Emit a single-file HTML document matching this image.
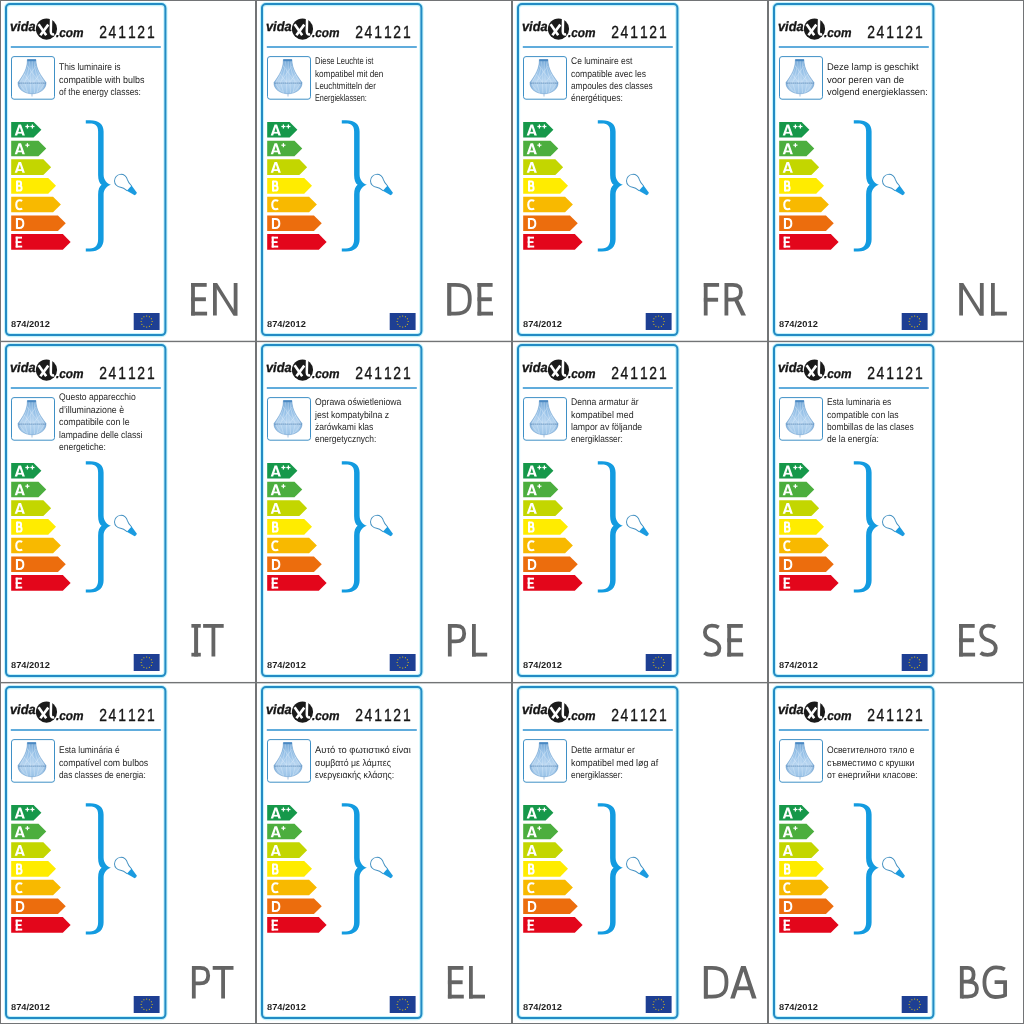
<!DOCTYPE html>
<html><head><meta charset="utf-8"><title>labels</title>
<style>
html,body{margin:0;padding:0;background:#fff;}
body{width:1024px;height:1024px;position:relative;overflow:hidden;font-family:"Liberation Sans",sans-serif;}
.cell{position:absolute;overflow:visible;will-change:transform;}
text{font-family:"Liberation Sans",sans-serif;text-rendering:geometricPrecision;}
.t{font-size:9.7px;fill:#262626;}
.num{font-size:17.4px;fill:#161616;stroke:#161616;stroke-width:0.35px;}
.logo{font-size:13.6px;font-weight:bold;font-style:italic;fill:#161616;stroke:#161616;stroke-width:0.35px;}
.logo2{font-size:12.8px;font-weight:bold;font-style:italic;fill:#161616;stroke:#161616;stroke-width:0.3px;}
.al{font-size:15.2px;font-weight:bold;fill:#fff;}
.reg{font-size:8.6px;font-weight:bold;fill:#1e1e1e;}
#grid{position:absolute;left:0;top:0;}
</style></head><body>
<svg width="0" height="0" style="position:absolute"><defs>
<linearGradient id="chv" x1="0" y1="0" x2="0" y2="1">
<stop offset="0" stop-color="#5a97cd"/><stop offset="0.3" stop-color="#92bee6"/><stop offset="0.65" stop-color="#b8d6f1"/><stop offset="1" stop-color="#98c2e7"/>
</linearGradient>
<linearGradient id="chh" x1="0" y1="0" x2="1" y2="0">
<stop offset="0" stop-color="#3f7fbf" stop-opacity="0.45"/><stop offset="0.25" stop-color="#ffffff" stop-opacity="0"/><stop offset="0.75" stop-color="#ffffff" stop-opacity="0"/><stop offset="1" stop-color="#3f7fbf" stop-opacity="0.45"/>
</linearGradient></defs></svg>
<svg class="cell" style="left:0px;top:0.000px" width="256" height="342" viewBox="0 0 256 342">
<rect x="6.0" y="4.1" width="159.4" height="331.0" rx="4" ry="4" fill="none" stroke="#c4f3fb" stroke-width="4.2"/>
<rect x="6.0" y="4.1" width="159.4" height="331.0" rx="4" ry="4" fill="none" stroke="#238bc4" stroke-width="2.0"/>
<text x="10.0" y="30.7" class="logo" textLength="25.6" lengthAdjust="spacingAndGlyphs">vida</text><circle cx="46.5" cy="29.05" r="10.6" fill="#1a1a1a"/><path d="M38.6,24.3 L46.2,35.2" stroke="#fff" stroke-width="2.6" fill="none"/><path d="M48.3,24.6 L40.4,35.2" stroke="#fff" stroke-width="2.6" fill="none"/><path d="M51.1,18.4 L50.8,31.6 C50.8,33.8 52,34.8 54.2,34.3" stroke="#fff" stroke-width="2.5" fill="none"/><text x="56.0" y="36.6" class="logo2" textLength="27.6" lengthAdjust="spacingAndGlyphs">.com</text>
<text transform="scale(0.8,1)" x="123.95 135.47 147.79 159.91 171.7 183.79" y="38.4" class="num">241121</text>
<line x1="10.8" y1="47.05" x2="160.8" y2="47.05" stroke="#2b90d0" stroke-width="1.4"/>
<rect x="11.5" y="56.6" width="43" height="42.6" rx="2.5" ry="2.5" fill="#fff" stroke="#3f90c6" stroke-width="1"/>
<path d="M27.4,59.5 L35.9,59.5 C35.9,69 40.5,75 46,82.5 C46.3,89 40,93.6 32,93.8 C24,93.6 17.6,89 18,82.5 C23.4,75 27.4,69 27.4,59.5 Z" fill="url(#chv)"/><path d="M27.4,59.5 L35.9,59.5 C35.9,69 40.5,75 46,82.5 C46.3,89 40,93.6 32,93.8 C24,93.6 17.6,89 18,82.5 C23.4,75 27.4,69 27.4,59.5 Z" fill="url(#chh)"/><path d="M28.2,61 C27.5,70 23,77 19.5,83 M29.6,61 C29.4,70 26.5,77 24.5,83 M31.1,61 L30.6,83 M32.6,61 L33.1,83 M34.1,61 C34.3,70 37.5,77 39.5,83 M35.4,61 C36,70 40.5,77 44.5,83 M20,84 C22,88 25,91.5 28,92.8 M25,84 L27.5,92.5 M30.5,84 L30.8,93.2 M34,84 L34.5,93 M39,84 L37,92.5 M44,84 C42,88 39,91.5 36,92.8" stroke="#d8eaf9" stroke-width="0.55" fill="none" opacity="0.85"/><path d="M27.5,66 L37.5,80 M36,66 L26,80 M24,74 L31,83 M40,74 L33,83" stroke="#e6f1fb" stroke-width="0.5" fill="none" opacity="0.7"/><path d="M27.4,59.5 L35.9,59.5 C35.9,69 40.5,75 46,82.5 C46.3,89 40,93.6 32,93.8 C24,93.6 17.6,89 18,82.5 C23.4,75 27.4,69 27.4,59.5 Z" fill="none" stroke="#5b94c9" stroke-width="0.6" opacity="0.8"/><rect x="27.4" y="59.4" width="8.5" height="1.8" fill="#4a88c2"/><line x1="18.6" y1="83.1" x2="45.6" y2="83.1" stroke="#4a78a8" stroke-width="0.9" stroke-dasharray="1.1,0.9"/><line x1="32" y1="93.5" x2="32" y2="96.5" stroke="#7fa9d4" stroke-width="0.7"/>
<text x="59.0" y="70.32" class="t" textLength="61.6" lengthAdjust="spacingAndGlyphs">This luminaire is</text><text x="59.0" y="82.70" class="t" textLength="85.4" lengthAdjust="spacingAndGlyphs">compatible with bulbs</text><text x="59.0" y="95.08" class="t" textLength="81.9" lengthAdjust="spacingAndGlyphs">of the energy classes:</text>
<polygon points="11.2,122.00 33.60,122.00 41.40,129.80 33.60,137.60 11.2,137.60" fill="#16984a"/>
<g fill="#fff"><polygon points="14.70,135.45 18.55,124.60 21.05,124.60 24.90,135.45 22.40,135.45 19.80,127.20 17.20,135.45"/><rect x="16.70" y="131.85" width="6.20" height="1.75"/></g>
<rect x="25.35" y="125.88" width="4.1" height="1.25" fill="#fff"/><rect x="26.77" y="124.45" width="1.25" height="4.1" fill="#fff"/>
<rect x="30.35" y="125.88" width="4.1" height="1.25" fill="#fff"/><rect x="31.77" y="124.45" width="1.25" height="4.1" fill="#fff"/>
<polygon points="11.2,140.68 38.47,140.68 46.27,148.48 38.47,156.28 11.2,156.28" fill="#4cae3e"/>
<g fill="#fff"><polygon points="14.70,154.13 18.55,143.28 21.05,143.28 24.90,154.13 22.40,154.13 19.80,145.88 17.20,154.13"/><rect x="16.70" y="150.53" width="6.20" height="1.75"/></g>
<rect x="25.35" y="144.56" width="4.1" height="1.25" fill="#fff"/><rect x="26.77" y="143.13" width="1.25" height="4.1" fill="#fff"/>
<polygon points="11.2,159.36 43.34,159.36 51.14,167.16 43.34,174.96 11.2,174.96" fill="#c3d600"/>
<g fill="#fff"><polygon points="14.70,172.81 18.55,161.96 21.05,161.96 24.90,172.81 22.40,172.81 19.80,164.56 17.20,172.81"/><rect x="16.70" y="169.21" width="6.20" height="1.75"/></g>
<polygon points="11.2,178.04 48.21,178.04 56.01,185.84 48.21,193.64 11.2,193.64" fill="#ffec00"/>
<g fill="#fff"><rect x="16.00" y="180.64" width="2.10" height="10.85"/><path d="M17.05,181.59 H19.65 C21.55,181.59 21.55,185.87 19.65,185.87 H17.05 M19.65,185.87 C22.25,185.87 22.25,190.54 19.65,190.54 H17.05" fill="none" stroke="#fff" stroke-width="2.0"/></g>
<polygon points="11.2,196.72 53.08,196.72 60.88,204.52 53.08,212.32 11.2,212.32" fill="#f8b900"/>
<g fill="#fff"><path d="M22.25,200.87 C21.25,200.37 20.25,200.27 19.85,200.27 C17.05,200.27 16.25,202.87 16.25,204.75 C16.25,206.62 17.05,209.22 19.85,209.22 C20.25,209.22 21.25,209.12 22.25,208.62" fill="none" stroke="#fff" stroke-width="2.1"/></g>
<polygon points="11.2,215.40 57.95,215.40 65.75,223.20 57.95,231.00 11.2,231.00" fill="#ec6d0d"/>
<g fill="#fff"><rect x="15.90" y="218.00" width="2.10" height="10.85"/><path d="M16.95,218.95 H19.35 C22.85,218.95 23.35,221.45 23.35,223.43 C23.35,225.40 22.85,227.90 19.35,227.90 H16.95" fill="none" stroke="#fff" stroke-width="2.0"/></g>
<polygon points="11.2,234.08 62.82,234.08 70.62,241.88 62.82,249.68 11.2,249.68" fill="#e3061b"/>
<g fill="#fff"><rect x="15.70" y="236.68" width="2.10" height="10.85"/><rect x="15.70" y="236.68" width="6.30" height="1.90"/><rect x="15.70" y="241.15" width="5.80" height="1.85"/><rect x="15.70" y="245.63" width="6.50" height="1.90"/></g>
<path d="M85.8,120.3 L90,120.3 C99,120.3 103.6,124.5 103.6,131.5 L103.6,174.5 C103.6,180 107,183.6 110.9,184.8 C107,186 103.6,189.5 103.6,194.5 L103.6,239.5 C103.6,246.5 99,251.6 90,251.6 L85.8,251.6 L85.8,248.4 L90,248.4 C95.5,248.4 98.1,245 98.1,239 L98.1,194.5 C98.1,189.5 99.5,186.2 101.6,184.8 C99.5,183.4 98.1,180 98.1,175 L98.1,131.5 C98.1,126 95.5,123.6 90,123.6 L85.8,123.6 Z" fill="#139be0"/>
<g transform="translate(121.0,180.8) rotate(41.7)"><path d="M11.4,-3.2 C8,-3.5 5.5,-4.1 4.0,-5.1 A6.48,6.48 0 1 0 4.0,5.1 C5.5,4.1 8,3.5 11.4,3.2" fill="none" stroke="#3f8ec0" stroke-width="0.95"/><path d="M11.0,-3.6 L19.8,-1.7 Q20.5,0 19.8,1.7 L11.0,3.6 Z" fill="#1b9be0"/></g>
<text x="11.0" y="326.8" class="reg" textLength="38.8" lengthAdjust="spacingAndGlyphs">874/2012</text>
<rect x="133.7" y="313" width="25.9" height="17" fill="#1e3f93"/><circle cx="152.15" cy="321.50" r="0.6" fill="#f5d000"/><circle cx="151.41" cy="324.25" r="0.6" fill="#f5d000"/><circle cx="149.40" cy="326.26" r="0.6" fill="#f5d000"/><circle cx="146.65" cy="327.00" r="0.6" fill="#f5d000"/><circle cx="143.90" cy="326.26" r="0.6" fill="#f5d000"/><circle cx="141.89" cy="324.25" r="0.6" fill="#f5d000"/><circle cx="141.15" cy="321.50" r="0.6" fill="#f5d000"/><circle cx="141.89" cy="318.75" r="0.6" fill="#f5d000"/><circle cx="143.90" cy="316.74" r="0.6" fill="#f5d000"/><circle cx="146.65" cy="316.00" r="0.6" fill="#f5d000"/><circle cx="149.40" cy="316.74" r="0.6" fill="#f5d000"/><circle cx="151.41" cy="318.75" r="0.6" fill="#f5d000"/>
<g fill="#646464" stroke="#646464" stroke-width="0"><rect x="191.10" y="283.00" width="3.80" height="32.50"/><rect x="191.10" y="283.00" width="15.60" height="3.80"/><rect x="191.10" y="297.30" width="14.80" height="3.90"/><rect x="191.10" y="311.70" width="16.00" height="3.80"/><rect x="213.00" y="283.00" width="3.80" height="32.50"/><rect x="233.70" y="283.00" width="3.80" height="32.50"/><polygon points="213.00,283.0 217.10,283.0 237.50,315.5 233.40,315.5"/></g>
</svg>
<svg class="cell" style="left:256px;top:0.000px" width="256" height="342" viewBox="0 0 256 342">
<rect x="6.0" y="4.1" width="159.4" height="331.0" rx="4" ry="4" fill="none" stroke="#c4f3fb" stroke-width="4.2"/>
<rect x="6.0" y="4.1" width="159.4" height="331.0" rx="4" ry="4" fill="none" stroke="#238bc4" stroke-width="2.0"/>
<text x="10.0" y="30.7" class="logo" textLength="25.6" lengthAdjust="spacingAndGlyphs">vida</text><circle cx="46.5" cy="29.05" r="10.6" fill="#1a1a1a"/><path d="M38.6,24.3 L46.2,35.2" stroke="#fff" stroke-width="2.6" fill="none"/><path d="M48.3,24.6 L40.4,35.2" stroke="#fff" stroke-width="2.6" fill="none"/><path d="M51.1,18.4 L50.8,31.6 C50.8,33.8 52,34.8 54.2,34.3" stroke="#fff" stroke-width="2.5" fill="none"/><text x="56.0" y="36.6" class="logo2" textLength="27.6" lengthAdjust="spacingAndGlyphs">.com</text>
<text transform="scale(0.8,1)" x="123.95 135.47 147.79 159.91 171.7 183.79" y="38.4" class="num">241121</text>
<line x1="10.8" y1="47.05" x2="160.8" y2="47.05" stroke="#2b90d0" stroke-width="1.4"/>
<rect x="11.5" y="56.6" width="43" height="42.6" rx="2.5" ry="2.5" fill="#fff" stroke="#3f90c6" stroke-width="1"/>
<path d="M27.4,59.5 L35.9,59.5 C35.9,69 40.5,75 46,82.5 C46.3,89 40,93.6 32,93.8 C24,93.6 17.6,89 18,82.5 C23.4,75 27.4,69 27.4,59.5 Z" fill="url(#chv)"/><path d="M27.4,59.5 L35.9,59.5 C35.9,69 40.5,75 46,82.5 C46.3,89 40,93.6 32,93.8 C24,93.6 17.6,89 18,82.5 C23.4,75 27.4,69 27.4,59.5 Z" fill="url(#chh)"/><path d="M28.2,61 C27.5,70 23,77 19.5,83 M29.6,61 C29.4,70 26.5,77 24.5,83 M31.1,61 L30.6,83 M32.6,61 L33.1,83 M34.1,61 C34.3,70 37.5,77 39.5,83 M35.4,61 C36,70 40.5,77 44.5,83 M20,84 C22,88 25,91.5 28,92.8 M25,84 L27.5,92.5 M30.5,84 L30.8,93.2 M34,84 L34.5,93 M39,84 L37,92.5 M44,84 C42,88 39,91.5 36,92.8" stroke="#d8eaf9" stroke-width="0.55" fill="none" opacity="0.85"/><path d="M27.5,66 L37.5,80 M36,66 L26,80 M24,74 L31,83 M40,74 L33,83" stroke="#e6f1fb" stroke-width="0.5" fill="none" opacity="0.7"/><path d="M27.4,59.5 L35.9,59.5 C35.9,69 40.5,75 46,82.5 C46.3,89 40,93.6 32,93.8 C24,93.6 17.6,89 18,82.5 C23.4,75 27.4,69 27.4,59.5 Z" fill="none" stroke="#5b94c9" stroke-width="0.6" opacity="0.8"/><rect x="27.4" y="59.4" width="8.5" height="1.8" fill="#4a88c2"/><line x1="18.6" y1="83.1" x2="45.6" y2="83.1" stroke="#4a78a8" stroke-width="0.9" stroke-dasharray="1.1,0.9"/><line x1="32" y1="93.5" x2="32" y2="96.5" stroke="#7fa9d4" stroke-width="0.7"/>
<text x="59.0" y="64.13" class="t" textLength="58.4" lengthAdjust="spacingAndGlyphs">Diese Leuchte ist</text><text x="59.0" y="76.51" class="t" textLength="68.4" lengthAdjust="spacingAndGlyphs">kompatibel mit den</text><text x="59.0" y="88.89" class="t" textLength="60.9" lengthAdjust="spacingAndGlyphs">Leuchtmitteln der</text><text x="59.0" y="101.27" class="t" textLength="51.8" lengthAdjust="spacingAndGlyphs">Energieklassen:</text>
<polygon points="11.2,122.00 33.60,122.00 41.40,129.80 33.60,137.60 11.2,137.60" fill="#16984a"/>
<g fill="#fff"><polygon points="14.70,135.45 18.55,124.60 21.05,124.60 24.90,135.45 22.40,135.45 19.80,127.20 17.20,135.45"/><rect x="16.70" y="131.85" width="6.20" height="1.75"/></g>
<rect x="25.35" y="125.88" width="4.1" height="1.25" fill="#fff"/><rect x="26.77" y="124.45" width="1.25" height="4.1" fill="#fff"/>
<rect x="30.35" y="125.88" width="4.1" height="1.25" fill="#fff"/><rect x="31.77" y="124.45" width="1.25" height="4.1" fill="#fff"/>
<polygon points="11.2,140.68 38.47,140.68 46.27,148.48 38.47,156.28 11.2,156.28" fill="#4cae3e"/>
<g fill="#fff"><polygon points="14.70,154.13 18.55,143.28 21.05,143.28 24.90,154.13 22.40,154.13 19.80,145.88 17.20,154.13"/><rect x="16.70" y="150.53" width="6.20" height="1.75"/></g>
<rect x="25.35" y="144.56" width="4.1" height="1.25" fill="#fff"/><rect x="26.77" y="143.13" width="1.25" height="4.1" fill="#fff"/>
<polygon points="11.2,159.36 43.34,159.36 51.14,167.16 43.34,174.96 11.2,174.96" fill="#c3d600"/>
<g fill="#fff"><polygon points="14.70,172.81 18.55,161.96 21.05,161.96 24.90,172.81 22.40,172.81 19.80,164.56 17.20,172.81"/><rect x="16.70" y="169.21" width="6.20" height="1.75"/></g>
<polygon points="11.2,178.04 48.21,178.04 56.01,185.84 48.21,193.64 11.2,193.64" fill="#ffec00"/>
<g fill="#fff"><rect x="16.00" y="180.64" width="2.10" height="10.85"/><path d="M17.05,181.59 H19.65 C21.55,181.59 21.55,185.87 19.65,185.87 H17.05 M19.65,185.87 C22.25,185.87 22.25,190.54 19.65,190.54 H17.05" fill="none" stroke="#fff" stroke-width="2.0"/></g>
<polygon points="11.2,196.72 53.08,196.72 60.88,204.52 53.08,212.32 11.2,212.32" fill="#f8b900"/>
<g fill="#fff"><path d="M22.25,200.87 C21.25,200.37 20.25,200.27 19.85,200.27 C17.05,200.27 16.25,202.87 16.25,204.75 C16.25,206.62 17.05,209.22 19.85,209.22 C20.25,209.22 21.25,209.12 22.25,208.62" fill="none" stroke="#fff" stroke-width="2.1"/></g>
<polygon points="11.2,215.40 57.95,215.40 65.75,223.20 57.95,231.00 11.2,231.00" fill="#ec6d0d"/>
<g fill="#fff"><rect x="15.90" y="218.00" width="2.10" height="10.85"/><path d="M16.95,218.95 H19.35 C22.85,218.95 23.35,221.45 23.35,223.43 C23.35,225.40 22.85,227.90 19.35,227.90 H16.95" fill="none" stroke="#fff" stroke-width="2.0"/></g>
<polygon points="11.2,234.08 62.82,234.08 70.62,241.88 62.82,249.68 11.2,249.68" fill="#e3061b"/>
<g fill="#fff"><rect x="15.70" y="236.68" width="2.10" height="10.85"/><rect x="15.70" y="236.68" width="6.30" height="1.90"/><rect x="15.70" y="241.15" width="5.80" height="1.85"/><rect x="15.70" y="245.63" width="6.50" height="1.90"/></g>
<path d="M85.8,120.3 L90,120.3 C99,120.3 103.6,124.5 103.6,131.5 L103.6,174.5 C103.6,180 107,183.6 110.9,184.8 C107,186 103.6,189.5 103.6,194.5 L103.6,239.5 C103.6,246.5 99,251.6 90,251.6 L85.8,251.6 L85.8,248.4 L90,248.4 C95.5,248.4 98.1,245 98.1,239 L98.1,194.5 C98.1,189.5 99.5,186.2 101.6,184.8 C99.5,183.4 98.1,180 98.1,175 L98.1,131.5 C98.1,126 95.5,123.6 90,123.6 L85.8,123.6 Z" fill="#139be0"/>
<g transform="translate(121.0,180.8) rotate(41.7)"><path d="M11.4,-3.2 C8,-3.5 5.5,-4.1 4.0,-5.1 A6.48,6.48 0 1 0 4.0,5.1 C5.5,4.1 8,3.5 11.4,3.2" fill="none" stroke="#3f8ec0" stroke-width="0.95"/><path d="M11.0,-3.6 L19.8,-1.7 Q20.5,0 19.8,1.7 L11.0,3.6 Z" fill="#1b9be0"/></g>
<text x="11.0" y="326.8" class="reg" textLength="38.8" lengthAdjust="spacingAndGlyphs">874/2012</text>
<rect x="133.7" y="313" width="25.9" height="17" fill="#1e3f93"/><circle cx="152.15" cy="321.50" r="0.6" fill="#f5d000"/><circle cx="151.41" cy="324.25" r="0.6" fill="#f5d000"/><circle cx="149.40" cy="326.26" r="0.6" fill="#f5d000"/><circle cx="146.65" cy="327.00" r="0.6" fill="#f5d000"/><circle cx="143.90" cy="326.26" r="0.6" fill="#f5d000"/><circle cx="141.89" cy="324.25" r="0.6" fill="#f5d000"/><circle cx="141.15" cy="321.50" r="0.6" fill="#f5d000"/><circle cx="141.89" cy="318.75" r="0.6" fill="#f5d000"/><circle cx="143.90" cy="316.74" r="0.6" fill="#f5d000"/><circle cx="146.65" cy="316.00" r="0.6" fill="#f5d000"/><circle cx="149.40" cy="316.74" r="0.6" fill="#f5d000"/><circle cx="151.41" cy="318.75" r="0.6" fill="#f5d000"/>
<g fill="#646464" stroke="#646464" stroke-width="0"><path d="M193.30,284.90 H199.30 C212.30,284.90 213.80,291.40 213.80,299.25 C213.80,307.10 211.80,313.60 199.30,313.60 H193.30 Z" fill="none" stroke-width="3.8" stroke-linejoin="miter"/><rect x="191.40" y="283.00" width="3.80" height="32.50"/><rect x="221.50" y="283.00" width="3.80" height="32.50"/><rect x="221.50" y="283.00" width="15.10" height="3.80"/><rect x="221.50" y="297.30" width="14.30" height="3.90"/><rect x="221.50" y="311.70" width="15.50" height="3.80"/></g>
</svg>
<svg class="cell" style="left:512px;top:0.000px" width="256" height="342" viewBox="0 0 256 342">
<rect x="6.0" y="4.1" width="159.4" height="331.0" rx="4" ry="4" fill="none" stroke="#c4f3fb" stroke-width="4.2"/>
<rect x="6.0" y="4.1" width="159.4" height="331.0" rx="4" ry="4" fill="none" stroke="#238bc4" stroke-width="2.0"/>
<text x="10.0" y="30.7" class="logo" textLength="25.6" lengthAdjust="spacingAndGlyphs">vida</text><circle cx="46.5" cy="29.05" r="10.6" fill="#1a1a1a"/><path d="M38.6,24.3 L46.2,35.2" stroke="#fff" stroke-width="2.6" fill="none"/><path d="M48.3,24.6 L40.4,35.2" stroke="#fff" stroke-width="2.6" fill="none"/><path d="M51.1,18.4 L50.8,31.6 C50.8,33.8 52,34.8 54.2,34.3" stroke="#fff" stroke-width="2.5" fill="none"/><text x="56.0" y="36.6" class="logo2" textLength="27.6" lengthAdjust="spacingAndGlyphs">.com</text>
<text transform="scale(0.8,1)" x="123.95 135.47 147.79 159.91 171.7 183.79" y="38.4" class="num">241121</text>
<line x1="10.8" y1="47.05" x2="160.8" y2="47.05" stroke="#2b90d0" stroke-width="1.4"/>
<rect x="11.5" y="56.6" width="43" height="42.6" rx="2.5" ry="2.5" fill="#fff" stroke="#3f90c6" stroke-width="1"/>
<path d="M27.4,59.5 L35.9,59.5 C35.9,69 40.5,75 46,82.5 C46.3,89 40,93.6 32,93.8 C24,93.6 17.6,89 18,82.5 C23.4,75 27.4,69 27.4,59.5 Z" fill="url(#chv)"/><path d="M27.4,59.5 L35.9,59.5 C35.9,69 40.5,75 46,82.5 C46.3,89 40,93.6 32,93.8 C24,93.6 17.6,89 18,82.5 C23.4,75 27.4,69 27.4,59.5 Z" fill="url(#chh)"/><path d="M28.2,61 C27.5,70 23,77 19.5,83 M29.6,61 C29.4,70 26.5,77 24.5,83 M31.1,61 L30.6,83 M32.6,61 L33.1,83 M34.1,61 C34.3,70 37.5,77 39.5,83 M35.4,61 C36,70 40.5,77 44.5,83 M20,84 C22,88 25,91.5 28,92.8 M25,84 L27.5,92.5 M30.5,84 L30.8,93.2 M34,84 L34.5,93 M39,84 L37,92.5 M44,84 C42,88 39,91.5 36,92.8" stroke="#d8eaf9" stroke-width="0.55" fill="none" opacity="0.85"/><path d="M27.5,66 L37.5,80 M36,66 L26,80 M24,74 L31,83 M40,74 L33,83" stroke="#e6f1fb" stroke-width="0.5" fill="none" opacity="0.7"/><path d="M27.4,59.5 L35.9,59.5 C35.9,69 40.5,75 46,82.5 C46.3,89 40,93.6 32,93.8 C24,93.6 17.6,89 18,82.5 C23.4,75 27.4,69 27.4,59.5 Z" fill="none" stroke="#5b94c9" stroke-width="0.6" opacity="0.8"/><rect x="27.4" y="59.4" width="8.5" height="1.8" fill="#4a88c2"/><line x1="18.6" y1="83.1" x2="45.6" y2="83.1" stroke="#4a78a8" stroke-width="0.9" stroke-dasharray="1.1,0.9"/><line x1="32" y1="93.5" x2="32" y2="96.5" stroke="#7fa9d4" stroke-width="0.7"/>
<text x="59.0" y="64.13" class="t" textLength="61.3" lengthAdjust="spacingAndGlyphs">Ce luminaire est</text><text x="59.0" y="76.51" class="t" textLength="75.0" lengthAdjust="spacingAndGlyphs">compatible avec les</text><text x="59.0" y="88.89" class="t" textLength="81.7" lengthAdjust="spacingAndGlyphs">ampoules des classes</text><text x="59.0" y="101.27" class="t" textLength="51.8" lengthAdjust="spacingAndGlyphs">énergétiques:</text>
<polygon points="11.2,122.00 33.60,122.00 41.40,129.80 33.60,137.60 11.2,137.60" fill="#16984a"/>
<g fill="#fff"><polygon points="14.70,135.45 18.55,124.60 21.05,124.60 24.90,135.45 22.40,135.45 19.80,127.20 17.20,135.45"/><rect x="16.70" y="131.85" width="6.20" height="1.75"/></g>
<rect x="25.35" y="125.88" width="4.1" height="1.25" fill="#fff"/><rect x="26.77" y="124.45" width="1.25" height="4.1" fill="#fff"/>
<rect x="30.35" y="125.88" width="4.1" height="1.25" fill="#fff"/><rect x="31.77" y="124.45" width="1.25" height="4.1" fill="#fff"/>
<polygon points="11.2,140.68 38.47,140.68 46.27,148.48 38.47,156.28 11.2,156.28" fill="#4cae3e"/>
<g fill="#fff"><polygon points="14.70,154.13 18.55,143.28 21.05,143.28 24.90,154.13 22.40,154.13 19.80,145.88 17.20,154.13"/><rect x="16.70" y="150.53" width="6.20" height="1.75"/></g>
<rect x="25.35" y="144.56" width="4.1" height="1.25" fill="#fff"/><rect x="26.77" y="143.13" width="1.25" height="4.1" fill="#fff"/>
<polygon points="11.2,159.36 43.34,159.36 51.14,167.16 43.34,174.96 11.2,174.96" fill="#c3d600"/>
<g fill="#fff"><polygon points="14.70,172.81 18.55,161.96 21.05,161.96 24.90,172.81 22.40,172.81 19.80,164.56 17.20,172.81"/><rect x="16.70" y="169.21" width="6.20" height="1.75"/></g>
<polygon points="11.2,178.04 48.21,178.04 56.01,185.84 48.21,193.64 11.2,193.64" fill="#ffec00"/>
<g fill="#fff"><rect x="16.00" y="180.64" width="2.10" height="10.85"/><path d="M17.05,181.59 H19.65 C21.55,181.59 21.55,185.87 19.65,185.87 H17.05 M19.65,185.87 C22.25,185.87 22.25,190.54 19.65,190.54 H17.05" fill="none" stroke="#fff" stroke-width="2.0"/></g>
<polygon points="11.2,196.72 53.08,196.72 60.88,204.52 53.08,212.32 11.2,212.32" fill="#f8b900"/>
<g fill="#fff"><path d="M22.25,200.87 C21.25,200.37 20.25,200.27 19.85,200.27 C17.05,200.27 16.25,202.87 16.25,204.75 C16.25,206.62 17.05,209.22 19.85,209.22 C20.25,209.22 21.25,209.12 22.25,208.62" fill="none" stroke="#fff" stroke-width="2.1"/></g>
<polygon points="11.2,215.40 57.95,215.40 65.75,223.20 57.95,231.00 11.2,231.00" fill="#ec6d0d"/>
<g fill="#fff"><rect x="15.90" y="218.00" width="2.10" height="10.85"/><path d="M16.95,218.95 H19.35 C22.85,218.95 23.35,221.45 23.35,223.43 C23.35,225.40 22.85,227.90 19.35,227.90 H16.95" fill="none" stroke="#fff" stroke-width="2.0"/></g>
<polygon points="11.2,234.08 62.82,234.08 70.62,241.88 62.82,249.68 11.2,249.68" fill="#e3061b"/>
<g fill="#fff"><rect x="15.70" y="236.68" width="2.10" height="10.85"/><rect x="15.70" y="236.68" width="6.30" height="1.90"/><rect x="15.70" y="241.15" width="5.80" height="1.85"/><rect x="15.70" y="245.63" width="6.50" height="1.90"/></g>
<path d="M85.8,120.3 L90,120.3 C99,120.3 103.6,124.5 103.6,131.5 L103.6,174.5 C103.6,180 107,183.6 110.9,184.8 C107,186 103.6,189.5 103.6,194.5 L103.6,239.5 C103.6,246.5 99,251.6 90,251.6 L85.8,251.6 L85.8,248.4 L90,248.4 C95.5,248.4 98.1,245 98.1,239 L98.1,194.5 C98.1,189.5 99.5,186.2 101.6,184.8 C99.5,183.4 98.1,180 98.1,175 L98.1,131.5 C98.1,126 95.5,123.6 90,123.6 L85.8,123.6 Z" fill="#139be0"/>
<g transform="translate(121.0,180.8) rotate(41.7)"><path d="M11.4,-3.2 C8,-3.5 5.5,-4.1 4.0,-5.1 A6.48,6.48 0 1 0 4.0,5.1 C5.5,4.1 8,3.5 11.4,3.2" fill="none" stroke="#3f8ec0" stroke-width="0.95"/><path d="M11.0,-3.6 L19.8,-1.7 Q20.5,0 19.8,1.7 L11.0,3.6 Z" fill="#1b9be0"/></g>
<text x="11.0" y="326.8" class="reg" textLength="38.8" lengthAdjust="spacingAndGlyphs">874/2012</text>
<rect x="133.7" y="313" width="25.9" height="17" fill="#1e3f93"/><circle cx="152.15" cy="321.50" r="0.6" fill="#f5d000"/><circle cx="151.41" cy="324.25" r="0.6" fill="#f5d000"/><circle cx="149.40" cy="326.26" r="0.6" fill="#f5d000"/><circle cx="146.65" cy="327.00" r="0.6" fill="#f5d000"/><circle cx="143.90" cy="326.26" r="0.6" fill="#f5d000"/><circle cx="141.89" cy="324.25" r="0.6" fill="#f5d000"/><circle cx="141.15" cy="321.50" r="0.6" fill="#f5d000"/><circle cx="141.89" cy="318.75" r="0.6" fill="#f5d000"/><circle cx="143.90" cy="316.74" r="0.6" fill="#f5d000"/><circle cx="146.65" cy="316.00" r="0.6" fill="#f5d000"/><circle cx="149.40" cy="316.74" r="0.6" fill="#f5d000"/><circle cx="151.41" cy="318.75" r="0.6" fill="#f5d000"/>
<g fill="#646464" stroke="#646464" stroke-width="0"><rect x="191.80" y="283.00" width="3.80" height="32.50"/><rect x="191.80" y="283.00" width="15.30" height="3.80"/><rect x="191.80" y="297.80" width="14.30" height="3.90"/><path d="M214.40,284.90 H220.90 C227.90,284.90 228.90,288.40 228.90,292.25 C228.90,296.10 227.40,299.60 220.40,299.60 H214.40" fill="none" stroke-width="3.8"/><rect x="212.50" y="283.00" width="3.80" height="32.50"/><polygon points="221.50,299.2 226.10,299.2 234.00,315.5 229.20,315.5"/></g>
</svg>
<svg class="cell" style="left:768px;top:0.000px" width="256" height="342" viewBox="0 0 256 342">
<rect x="6.0" y="4.1" width="159.4" height="331.0" rx="4" ry="4" fill="none" stroke="#c4f3fb" stroke-width="4.2"/>
<rect x="6.0" y="4.1" width="159.4" height="331.0" rx="4" ry="4" fill="none" stroke="#238bc4" stroke-width="2.0"/>
<text x="10.0" y="30.7" class="logo" textLength="25.6" lengthAdjust="spacingAndGlyphs">vida</text><circle cx="46.5" cy="29.05" r="10.6" fill="#1a1a1a"/><path d="M38.6,24.3 L46.2,35.2" stroke="#fff" stroke-width="2.6" fill="none"/><path d="M48.3,24.6 L40.4,35.2" stroke="#fff" stroke-width="2.6" fill="none"/><path d="M51.1,18.4 L50.8,31.6 C50.8,33.8 52,34.8 54.2,34.3" stroke="#fff" stroke-width="2.5" fill="none"/><text x="56.0" y="36.6" class="logo2" textLength="27.6" lengthAdjust="spacingAndGlyphs">.com</text>
<text transform="scale(0.8,1)" x="123.95 135.47 147.79 159.91 171.7 183.79" y="38.4" class="num">241121</text>
<line x1="10.8" y1="47.05" x2="160.8" y2="47.05" stroke="#2b90d0" stroke-width="1.4"/>
<rect x="11.5" y="56.6" width="43" height="42.6" rx="2.5" ry="2.5" fill="#fff" stroke="#3f90c6" stroke-width="1"/>
<path d="M27.4,59.5 L35.9,59.5 C35.9,69 40.5,75 46,82.5 C46.3,89 40,93.6 32,93.8 C24,93.6 17.6,89 18,82.5 C23.4,75 27.4,69 27.4,59.5 Z" fill="url(#chv)"/><path d="M27.4,59.5 L35.9,59.5 C35.9,69 40.5,75 46,82.5 C46.3,89 40,93.6 32,93.8 C24,93.6 17.6,89 18,82.5 C23.4,75 27.4,69 27.4,59.5 Z" fill="url(#chh)"/><path d="M28.2,61 C27.5,70 23,77 19.5,83 M29.6,61 C29.4,70 26.5,77 24.5,83 M31.1,61 L30.6,83 M32.6,61 L33.1,83 M34.1,61 C34.3,70 37.5,77 39.5,83 M35.4,61 C36,70 40.5,77 44.5,83 M20,84 C22,88 25,91.5 28,92.8 M25,84 L27.5,92.5 M30.5,84 L30.8,93.2 M34,84 L34.5,93 M39,84 L37,92.5 M44,84 C42,88 39,91.5 36,92.8" stroke="#d8eaf9" stroke-width="0.55" fill="none" opacity="0.85"/><path d="M27.5,66 L37.5,80 M36,66 L26,80 M24,74 L31,83 M40,74 L33,83" stroke="#e6f1fb" stroke-width="0.5" fill="none" opacity="0.7"/><path d="M27.4,59.5 L35.9,59.5 C35.9,69 40.5,75 46,82.5 C46.3,89 40,93.6 32,93.8 C24,93.6 17.6,89 18,82.5 C23.4,75 27.4,69 27.4,59.5 Z" fill="none" stroke="#5b94c9" stroke-width="0.6" opacity="0.8"/><rect x="27.4" y="59.4" width="8.5" height="1.8" fill="#4a88c2"/><line x1="18.6" y1="83.1" x2="45.6" y2="83.1" stroke="#4a78a8" stroke-width="0.9" stroke-dasharray="1.1,0.9"/><line x1="32" y1="93.5" x2="32" y2="96.5" stroke="#7fa9d4" stroke-width="0.7"/>
<text x="59.0" y="70.32" class="t" textLength="91.6" lengthAdjust="spacingAndGlyphs">Deze lamp is geschikt</text><text x="59.0" y="82.70" class="t" textLength="77.2" lengthAdjust="spacingAndGlyphs">voor peren van de</text><text x="59.0" y="95.08" class="t" textLength="100.8" lengthAdjust="spacingAndGlyphs">volgend energieklassen:</text>
<polygon points="11.2,122.00 33.60,122.00 41.40,129.80 33.60,137.60 11.2,137.60" fill="#16984a"/>
<g fill="#fff"><polygon points="14.70,135.45 18.55,124.60 21.05,124.60 24.90,135.45 22.40,135.45 19.80,127.20 17.20,135.45"/><rect x="16.70" y="131.85" width="6.20" height="1.75"/></g>
<rect x="25.35" y="125.88" width="4.1" height="1.25" fill="#fff"/><rect x="26.77" y="124.45" width="1.25" height="4.1" fill="#fff"/>
<rect x="30.35" y="125.88" width="4.1" height="1.25" fill="#fff"/><rect x="31.77" y="124.45" width="1.25" height="4.1" fill="#fff"/>
<polygon points="11.2,140.68 38.47,140.68 46.27,148.48 38.47,156.28 11.2,156.28" fill="#4cae3e"/>
<g fill="#fff"><polygon points="14.70,154.13 18.55,143.28 21.05,143.28 24.90,154.13 22.40,154.13 19.80,145.88 17.20,154.13"/><rect x="16.70" y="150.53" width="6.20" height="1.75"/></g>
<rect x="25.35" y="144.56" width="4.1" height="1.25" fill="#fff"/><rect x="26.77" y="143.13" width="1.25" height="4.1" fill="#fff"/>
<polygon points="11.2,159.36 43.34,159.36 51.14,167.16 43.34,174.96 11.2,174.96" fill="#c3d600"/>
<g fill="#fff"><polygon points="14.70,172.81 18.55,161.96 21.05,161.96 24.90,172.81 22.40,172.81 19.80,164.56 17.20,172.81"/><rect x="16.70" y="169.21" width="6.20" height="1.75"/></g>
<polygon points="11.2,178.04 48.21,178.04 56.01,185.84 48.21,193.64 11.2,193.64" fill="#ffec00"/>
<g fill="#fff"><rect x="16.00" y="180.64" width="2.10" height="10.85"/><path d="M17.05,181.59 H19.65 C21.55,181.59 21.55,185.87 19.65,185.87 H17.05 M19.65,185.87 C22.25,185.87 22.25,190.54 19.65,190.54 H17.05" fill="none" stroke="#fff" stroke-width="2.0"/></g>
<polygon points="11.2,196.72 53.08,196.72 60.88,204.52 53.08,212.32 11.2,212.32" fill="#f8b900"/>
<g fill="#fff"><path d="M22.25,200.87 C21.25,200.37 20.25,200.27 19.85,200.27 C17.05,200.27 16.25,202.87 16.25,204.75 C16.25,206.62 17.05,209.22 19.85,209.22 C20.25,209.22 21.25,209.12 22.25,208.62" fill="none" stroke="#fff" stroke-width="2.1"/></g>
<polygon points="11.2,215.40 57.95,215.40 65.75,223.20 57.95,231.00 11.2,231.00" fill="#ec6d0d"/>
<g fill="#fff"><rect x="15.90" y="218.00" width="2.10" height="10.85"/><path d="M16.95,218.95 H19.35 C22.85,218.95 23.35,221.45 23.35,223.43 C23.35,225.40 22.85,227.90 19.35,227.90 H16.95" fill="none" stroke="#fff" stroke-width="2.0"/></g>
<polygon points="11.2,234.08 62.82,234.08 70.62,241.88 62.82,249.68 11.2,249.68" fill="#e3061b"/>
<g fill="#fff"><rect x="15.70" y="236.68" width="2.10" height="10.85"/><rect x="15.70" y="236.68" width="6.30" height="1.90"/><rect x="15.70" y="241.15" width="5.80" height="1.85"/><rect x="15.70" y="245.63" width="6.50" height="1.90"/></g>
<path d="M85.8,120.3 L90,120.3 C99,120.3 103.6,124.5 103.6,131.5 L103.6,174.5 C103.6,180 107,183.6 110.9,184.8 C107,186 103.6,189.5 103.6,194.5 L103.6,239.5 C103.6,246.5 99,251.6 90,251.6 L85.8,251.6 L85.8,248.4 L90,248.4 C95.5,248.4 98.1,245 98.1,239 L98.1,194.5 C98.1,189.5 99.5,186.2 101.6,184.8 C99.5,183.4 98.1,180 98.1,175 L98.1,131.5 C98.1,126 95.5,123.6 90,123.6 L85.8,123.6 Z" fill="#139be0"/>
<g transform="translate(121.0,180.8) rotate(41.7)"><path d="M11.4,-3.2 C8,-3.5 5.5,-4.1 4.0,-5.1 A6.48,6.48 0 1 0 4.0,5.1 C5.5,4.1 8,3.5 11.4,3.2" fill="none" stroke="#3f8ec0" stroke-width="0.95"/><path d="M11.0,-3.6 L19.8,-1.7 Q20.5,0 19.8,1.7 L11.0,3.6 Z" fill="#1b9be0"/></g>
<text x="11.0" y="326.8" class="reg" textLength="38.8" lengthAdjust="spacingAndGlyphs">874/2012</text>
<rect x="133.7" y="313" width="25.9" height="17" fill="#1e3f93"/><circle cx="152.15" cy="321.50" r="0.6" fill="#f5d000"/><circle cx="151.41" cy="324.25" r="0.6" fill="#f5d000"/><circle cx="149.40" cy="326.26" r="0.6" fill="#f5d000"/><circle cx="146.65" cy="327.00" r="0.6" fill="#f5d000"/><circle cx="143.90" cy="326.26" r="0.6" fill="#f5d000"/><circle cx="141.89" cy="324.25" r="0.6" fill="#f5d000"/><circle cx="141.15" cy="321.50" r="0.6" fill="#f5d000"/><circle cx="141.89" cy="318.75" r="0.6" fill="#f5d000"/><circle cx="143.90" cy="316.74" r="0.6" fill="#f5d000"/><circle cx="146.65" cy="316.00" r="0.6" fill="#f5d000"/><circle cx="149.40" cy="316.74" r="0.6" fill="#f5d000"/><circle cx="151.41" cy="318.75" r="0.6" fill="#f5d000"/>
<g fill="#646464" stroke="#646464" stroke-width="0"><rect x="191.20" y="283.00" width="3.80" height="32.50"/><rect x="211.90" y="283.00" width="3.80" height="32.50"/><polygon points="191.20,283.0 195.30,283.0 215.70,315.5 211.60,315.5"/><rect x="223.00" y="283.00" width="3.80" height="32.50"/><rect x="223.00" y="311.70" width="15.90" height="3.80"/></g>
</svg>
<svg class="cell" style="left:0px;top:341.400px" width="256" height="342" viewBox="0 0 256 342">
<rect x="6.0" y="4.1" width="159.4" height="331.0" rx="4" ry="4" fill="none" stroke="#c4f3fb" stroke-width="4.2"/>
<rect x="6.0" y="4.1" width="159.4" height="331.0" rx="4" ry="4" fill="none" stroke="#238bc4" stroke-width="2.0"/>
<text x="10.0" y="30.7" class="logo" textLength="25.6" lengthAdjust="spacingAndGlyphs">vida</text><circle cx="46.5" cy="29.05" r="10.6" fill="#1a1a1a"/><path d="M38.6,24.3 L46.2,35.2" stroke="#fff" stroke-width="2.6" fill="none"/><path d="M48.3,24.6 L40.4,35.2" stroke="#fff" stroke-width="2.6" fill="none"/><path d="M51.1,18.4 L50.8,31.6 C50.8,33.8 52,34.8 54.2,34.3" stroke="#fff" stroke-width="2.5" fill="none"/><text x="56.0" y="36.6" class="logo2" textLength="27.6" lengthAdjust="spacingAndGlyphs">.com</text>
<text transform="scale(0.8,1)" x="123.95 135.47 147.79 159.91 171.7 183.79" y="38.4" class="num">241121</text>
<line x1="10.8" y1="47.05" x2="160.8" y2="47.05" stroke="#2b90d0" stroke-width="1.4"/>
<rect x="11.5" y="56.6" width="43" height="42.6" rx="2.5" ry="2.5" fill="#fff" stroke="#3f90c6" stroke-width="1"/>
<path d="M27.4,59.5 L35.9,59.5 C35.9,69 40.5,75 46,82.5 C46.3,89 40,93.6 32,93.8 C24,93.6 17.6,89 18,82.5 C23.4,75 27.4,69 27.4,59.5 Z" fill="url(#chv)"/><path d="M27.4,59.5 L35.9,59.5 C35.9,69 40.5,75 46,82.5 C46.3,89 40,93.6 32,93.8 C24,93.6 17.6,89 18,82.5 C23.4,75 27.4,69 27.4,59.5 Z" fill="url(#chh)"/><path d="M28.2,61 C27.5,70 23,77 19.5,83 M29.6,61 C29.4,70 26.5,77 24.5,83 M31.1,61 L30.6,83 M32.6,61 L33.1,83 M34.1,61 C34.3,70 37.5,77 39.5,83 M35.4,61 C36,70 40.5,77 44.5,83 M20,84 C22,88 25,91.5 28,92.8 M25,84 L27.5,92.5 M30.5,84 L30.8,93.2 M34,84 L34.5,93 M39,84 L37,92.5 M44,84 C42,88 39,91.5 36,92.8" stroke="#d8eaf9" stroke-width="0.55" fill="none" opacity="0.85"/><path d="M27.5,66 L37.5,80 M36,66 L26,80 M24,74 L31,83 M40,74 L33,83" stroke="#e6f1fb" stroke-width="0.5" fill="none" opacity="0.7"/><path d="M27.4,59.5 L35.9,59.5 C35.9,69 40.5,75 46,82.5 C46.3,89 40,93.6 32,93.8 C24,93.6 17.6,89 18,82.5 C23.4,75 27.4,69 27.4,59.5 Z" fill="none" stroke="#5b94c9" stroke-width="0.6" opacity="0.8"/><rect x="27.4" y="59.4" width="8.5" height="1.8" fill="#4a88c2"/><line x1="18.6" y1="83.1" x2="45.6" y2="83.1" stroke="#4a78a8" stroke-width="0.9" stroke-dasharray="1.1,0.9"/><line x1="32" y1="93.5" x2="32" y2="96.5" stroke="#7fa9d4" stroke-width="0.7"/>
<text x="59.0" y="59.30" class="t" textLength="76.7" lengthAdjust="spacingAndGlyphs">Questo apparecchio</text><text x="59.0" y="71.75" class="t" textLength="65.1" lengthAdjust="spacingAndGlyphs">d’illuminazione è</text><text x="59.0" y="84.20" class="t" textLength="70.6" lengthAdjust="spacingAndGlyphs">compatibile con le</text><text x="59.0" y="96.65" class="t" textLength="83.3" lengthAdjust="spacingAndGlyphs">lampadine delle classi</text><text x="59.0" y="109.10" class="t" textLength="46.8" lengthAdjust="spacingAndGlyphs">energetiche:</text>
<polygon points="11.2,122.00 33.60,122.00 41.40,129.80 33.60,137.60 11.2,137.60" fill="#16984a"/>
<g fill="#fff"><polygon points="14.70,135.45 18.55,124.60 21.05,124.60 24.90,135.45 22.40,135.45 19.80,127.20 17.20,135.45"/><rect x="16.70" y="131.85" width="6.20" height="1.75"/></g>
<rect x="25.35" y="125.88" width="4.1" height="1.25" fill="#fff"/><rect x="26.77" y="124.45" width="1.25" height="4.1" fill="#fff"/>
<rect x="30.35" y="125.88" width="4.1" height="1.25" fill="#fff"/><rect x="31.77" y="124.45" width="1.25" height="4.1" fill="#fff"/>
<polygon points="11.2,140.68 38.47,140.68 46.27,148.48 38.47,156.28 11.2,156.28" fill="#4cae3e"/>
<g fill="#fff"><polygon points="14.70,154.13 18.55,143.28 21.05,143.28 24.90,154.13 22.40,154.13 19.80,145.88 17.20,154.13"/><rect x="16.70" y="150.53" width="6.20" height="1.75"/></g>
<rect x="25.35" y="144.56" width="4.1" height="1.25" fill="#fff"/><rect x="26.77" y="143.13" width="1.25" height="4.1" fill="#fff"/>
<polygon points="11.2,159.36 43.34,159.36 51.14,167.16 43.34,174.96 11.2,174.96" fill="#c3d600"/>
<g fill="#fff"><polygon points="14.70,172.81 18.55,161.96 21.05,161.96 24.90,172.81 22.40,172.81 19.80,164.56 17.20,172.81"/><rect x="16.70" y="169.21" width="6.20" height="1.75"/></g>
<polygon points="11.2,178.04 48.21,178.04 56.01,185.84 48.21,193.64 11.2,193.64" fill="#ffec00"/>
<g fill="#fff"><rect x="16.00" y="180.64" width="2.10" height="10.85"/><path d="M17.05,181.59 H19.65 C21.55,181.59 21.55,185.87 19.65,185.87 H17.05 M19.65,185.87 C22.25,185.87 22.25,190.54 19.65,190.54 H17.05" fill="none" stroke="#fff" stroke-width="2.0"/></g>
<polygon points="11.2,196.72 53.08,196.72 60.88,204.52 53.08,212.32 11.2,212.32" fill="#f8b900"/>
<g fill="#fff"><path d="M22.25,200.87 C21.25,200.37 20.25,200.27 19.85,200.27 C17.05,200.27 16.25,202.87 16.25,204.75 C16.25,206.62 17.05,209.22 19.85,209.22 C20.25,209.22 21.25,209.12 22.25,208.62" fill="none" stroke="#fff" stroke-width="2.1"/></g>
<polygon points="11.2,215.40 57.95,215.40 65.75,223.20 57.95,231.00 11.2,231.00" fill="#ec6d0d"/>
<g fill="#fff"><rect x="15.90" y="218.00" width="2.10" height="10.85"/><path d="M16.95,218.95 H19.35 C22.85,218.95 23.35,221.45 23.35,223.43 C23.35,225.40 22.85,227.90 19.35,227.90 H16.95" fill="none" stroke="#fff" stroke-width="2.0"/></g>
<polygon points="11.2,234.08 62.82,234.08 70.62,241.88 62.82,249.68 11.2,249.68" fill="#e3061b"/>
<g fill="#fff"><rect x="15.70" y="236.68" width="2.10" height="10.85"/><rect x="15.70" y="236.68" width="6.30" height="1.90"/><rect x="15.70" y="241.15" width="5.80" height="1.85"/><rect x="15.70" y="245.63" width="6.50" height="1.90"/></g>
<path d="M85.8,120.3 L90,120.3 C99,120.3 103.6,124.5 103.6,131.5 L103.6,174.5 C103.6,180 107,183.6 110.9,184.8 C107,186 103.6,189.5 103.6,194.5 L103.6,239.5 C103.6,246.5 99,251.6 90,251.6 L85.8,251.6 L85.8,248.4 L90,248.4 C95.5,248.4 98.1,245 98.1,239 L98.1,194.5 C98.1,189.5 99.5,186.2 101.6,184.8 C99.5,183.4 98.1,180 98.1,175 L98.1,131.5 C98.1,126 95.5,123.6 90,123.6 L85.8,123.6 Z" fill="#139be0"/>
<g transform="translate(121.0,180.8) rotate(41.7)"><path d="M11.4,-3.2 C8,-3.5 5.5,-4.1 4.0,-5.1 A6.48,6.48 0 1 0 4.0,5.1 C5.5,4.1 8,3.5 11.4,3.2" fill="none" stroke="#3f8ec0" stroke-width="0.95"/><path d="M11.0,-3.6 L19.8,-1.7 Q20.5,0 19.8,1.7 L11.0,3.6 Z" fill="#1b9be0"/></g>
<text x="11.0" y="326.8" class="reg" textLength="38.8" lengthAdjust="spacingAndGlyphs">874/2012</text>
<rect x="133.7" y="313" width="25.9" height="17" fill="#1e3f93"/><circle cx="152.15" cy="321.50" r="0.6" fill="#f5d000"/><circle cx="151.41" cy="324.25" r="0.6" fill="#f5d000"/><circle cx="149.40" cy="326.26" r="0.6" fill="#f5d000"/><circle cx="146.65" cy="327.00" r="0.6" fill="#f5d000"/><circle cx="143.90" cy="326.26" r="0.6" fill="#f5d000"/><circle cx="141.89" cy="324.25" r="0.6" fill="#f5d000"/><circle cx="141.15" cy="321.50" r="0.6" fill="#f5d000"/><circle cx="141.89" cy="318.75" r="0.6" fill="#f5d000"/><circle cx="143.90" cy="316.74" r="0.6" fill="#f5d000"/><circle cx="146.65" cy="316.00" r="0.6" fill="#f5d000"/><circle cx="149.40" cy="316.74" r="0.6" fill="#f5d000"/><circle cx="151.41" cy="318.75" r="0.6" fill="#f5d000"/>
<g fill="#646464" stroke="#646464" stroke-width="0"><rect x="191.40" y="283.00" width="9.40" height="3.70"/><rect x="194.10" y="283.00" width="4.00" height="32.50"/><rect x="191.40" y="311.80" width="9.40" height="3.70"/><rect x="203.10" y="283.00" width="20.60" height="3.80"/><rect x="211.50" y="283.00" width="3.80" height="32.50"/></g>
</svg>
<svg class="cell" style="left:256px;top:341.400px" width="256" height="342" viewBox="0 0 256 342">
<rect x="6.0" y="4.1" width="159.4" height="331.0" rx="4" ry="4" fill="none" stroke="#c4f3fb" stroke-width="4.2"/>
<rect x="6.0" y="4.1" width="159.4" height="331.0" rx="4" ry="4" fill="none" stroke="#238bc4" stroke-width="2.0"/>
<text x="10.0" y="30.7" class="logo" textLength="25.6" lengthAdjust="spacingAndGlyphs">vida</text><circle cx="46.5" cy="29.05" r="10.6" fill="#1a1a1a"/><path d="M38.6,24.3 L46.2,35.2" stroke="#fff" stroke-width="2.6" fill="none"/><path d="M48.3,24.6 L40.4,35.2" stroke="#fff" stroke-width="2.6" fill="none"/><path d="M51.1,18.4 L50.8,31.6 C50.8,33.8 52,34.8 54.2,34.3" stroke="#fff" stroke-width="2.5" fill="none"/><text x="56.0" y="36.6" class="logo2" textLength="27.6" lengthAdjust="spacingAndGlyphs">.com</text>
<text transform="scale(0.8,1)" x="123.95 135.47 147.79 159.91 171.7 183.79" y="38.4" class="num">241121</text>
<line x1="10.8" y1="47.05" x2="160.8" y2="47.05" stroke="#2b90d0" stroke-width="1.4"/>
<rect x="11.5" y="56.6" width="43" height="42.6" rx="2.5" ry="2.5" fill="#fff" stroke="#3f90c6" stroke-width="1"/>
<path d="M27.4,59.5 L35.9,59.5 C35.9,69 40.5,75 46,82.5 C46.3,89 40,93.6 32,93.8 C24,93.6 17.6,89 18,82.5 C23.4,75 27.4,69 27.4,59.5 Z" fill="url(#chv)"/><path d="M27.4,59.5 L35.9,59.5 C35.9,69 40.5,75 46,82.5 C46.3,89 40,93.6 32,93.8 C24,93.6 17.6,89 18,82.5 C23.4,75 27.4,69 27.4,59.5 Z" fill="url(#chh)"/><path d="M28.2,61 C27.5,70 23,77 19.5,83 M29.6,61 C29.4,70 26.5,77 24.5,83 M31.1,61 L30.6,83 M32.6,61 L33.1,83 M34.1,61 C34.3,70 37.5,77 39.5,83 M35.4,61 C36,70 40.5,77 44.5,83 M20,84 C22,88 25,91.5 28,92.8 M25,84 L27.5,92.5 M30.5,84 L30.8,93.2 M34,84 L34.5,93 M39,84 L37,92.5 M44,84 C42,88 39,91.5 36,92.8" stroke="#d8eaf9" stroke-width="0.55" fill="none" opacity="0.85"/><path d="M27.5,66 L37.5,80 M36,66 L26,80 M24,74 L31,83 M40,74 L33,83" stroke="#e6f1fb" stroke-width="0.5" fill="none" opacity="0.7"/><path d="M27.4,59.5 L35.9,59.5 C35.9,69 40.5,75 46,82.5 C46.3,89 40,93.6 32,93.8 C24,93.6 17.6,89 18,82.5 C23.4,75 27.4,69 27.4,59.5 Z" fill="none" stroke="#5b94c9" stroke-width="0.6" opacity="0.8"/><rect x="27.4" y="59.4" width="8.5" height="1.8" fill="#4a88c2"/><line x1="18.6" y1="83.1" x2="45.6" y2="83.1" stroke="#4a78a8" stroke-width="0.9" stroke-dasharray="1.1,0.9"/><line x1="32" y1="93.5" x2="32" y2="96.5" stroke="#7fa9d4" stroke-width="0.7"/>
<text x="59.0" y="64.13" class="t" textLength="86.3" lengthAdjust="spacingAndGlyphs">Oprawa oświetleniowa</text><text x="59.0" y="76.51" class="t" textLength="74.2" lengthAdjust="spacingAndGlyphs">jest kompatybilna z</text><text x="59.0" y="88.89" class="t" textLength="58.4" lengthAdjust="spacingAndGlyphs">żarówkami klas</text><text x="59.0" y="101.27" class="t" textLength="61.3" lengthAdjust="spacingAndGlyphs">energetycznych:</text>
<polygon points="11.2,122.00 33.60,122.00 41.40,129.80 33.60,137.60 11.2,137.60" fill="#16984a"/>
<g fill="#fff"><polygon points="14.70,135.45 18.55,124.60 21.05,124.60 24.90,135.45 22.40,135.45 19.80,127.20 17.20,135.45"/><rect x="16.70" y="131.85" width="6.20" height="1.75"/></g>
<rect x="25.35" y="125.88" width="4.1" height="1.25" fill="#fff"/><rect x="26.77" y="124.45" width="1.25" height="4.1" fill="#fff"/>
<rect x="30.35" y="125.88" width="4.1" height="1.25" fill="#fff"/><rect x="31.77" y="124.45" width="1.25" height="4.1" fill="#fff"/>
<polygon points="11.2,140.68 38.47,140.68 46.27,148.48 38.47,156.28 11.2,156.28" fill="#4cae3e"/>
<g fill="#fff"><polygon points="14.70,154.13 18.55,143.28 21.05,143.28 24.90,154.13 22.40,154.13 19.80,145.88 17.20,154.13"/><rect x="16.70" y="150.53" width="6.20" height="1.75"/></g>
<rect x="25.35" y="144.56" width="4.1" height="1.25" fill="#fff"/><rect x="26.77" y="143.13" width="1.25" height="4.1" fill="#fff"/>
<polygon points="11.2,159.36 43.34,159.36 51.14,167.16 43.34,174.96 11.2,174.96" fill="#c3d600"/>
<g fill="#fff"><polygon points="14.70,172.81 18.55,161.96 21.05,161.96 24.90,172.81 22.40,172.81 19.80,164.56 17.20,172.81"/><rect x="16.70" y="169.21" width="6.20" height="1.75"/></g>
<polygon points="11.2,178.04 48.21,178.04 56.01,185.84 48.21,193.64 11.2,193.64" fill="#ffec00"/>
<g fill="#fff"><rect x="16.00" y="180.64" width="2.10" height="10.85"/><path d="M17.05,181.59 H19.65 C21.55,181.59 21.55,185.87 19.65,185.87 H17.05 M19.65,185.87 C22.25,185.87 22.25,190.54 19.65,190.54 H17.05" fill="none" stroke="#fff" stroke-width="2.0"/></g>
<polygon points="11.2,196.72 53.08,196.72 60.88,204.52 53.08,212.32 11.2,212.32" fill="#f8b900"/>
<g fill="#fff"><path d="M22.25,200.87 C21.25,200.37 20.25,200.27 19.85,200.27 C17.05,200.27 16.25,202.87 16.25,204.75 C16.25,206.62 17.05,209.22 19.85,209.22 C20.25,209.22 21.25,209.12 22.25,208.62" fill="none" stroke="#fff" stroke-width="2.1"/></g>
<polygon points="11.2,215.40 57.95,215.40 65.75,223.20 57.95,231.00 11.2,231.00" fill="#ec6d0d"/>
<g fill="#fff"><rect x="15.90" y="218.00" width="2.10" height="10.85"/><path d="M16.95,218.95 H19.35 C22.85,218.95 23.35,221.45 23.35,223.43 C23.35,225.40 22.85,227.90 19.35,227.90 H16.95" fill="none" stroke="#fff" stroke-width="2.0"/></g>
<polygon points="11.2,234.08 62.82,234.08 70.62,241.88 62.82,249.68 11.2,249.68" fill="#e3061b"/>
<g fill="#fff"><rect x="15.70" y="236.68" width="2.10" height="10.85"/><rect x="15.70" y="236.68" width="6.30" height="1.90"/><rect x="15.70" y="241.15" width="5.80" height="1.85"/><rect x="15.70" y="245.63" width="6.50" height="1.90"/></g>
<path d="M85.8,120.3 L90,120.3 C99,120.3 103.6,124.5 103.6,131.5 L103.6,174.5 C103.6,180 107,183.6 110.9,184.8 C107,186 103.6,189.5 103.6,194.5 L103.6,239.5 C103.6,246.5 99,251.6 90,251.6 L85.8,251.6 L85.8,248.4 L90,248.4 C95.5,248.4 98.1,245 98.1,239 L98.1,194.5 C98.1,189.5 99.5,186.2 101.6,184.8 C99.5,183.4 98.1,180 98.1,175 L98.1,131.5 C98.1,126 95.5,123.6 90,123.6 L85.8,123.6 Z" fill="#139be0"/>
<g transform="translate(121.0,180.8) rotate(41.7)"><path d="M11.4,-3.2 C8,-3.5 5.5,-4.1 4.0,-5.1 A6.48,6.48 0 1 0 4.0,5.1 C5.5,4.1 8,3.5 11.4,3.2" fill="none" stroke="#3f8ec0" stroke-width="0.95"/><path d="M11.0,-3.6 L19.8,-1.7 Q20.5,0 19.8,1.7 L11.0,3.6 Z" fill="#1b9be0"/></g>
<text x="11.0" y="326.8" class="reg" textLength="38.8" lengthAdjust="spacingAndGlyphs">874/2012</text>
<rect x="133.7" y="313" width="25.9" height="17" fill="#1e3f93"/><circle cx="152.15" cy="321.50" r="0.6" fill="#f5d000"/><circle cx="151.41" cy="324.25" r="0.6" fill="#f5d000"/><circle cx="149.40" cy="326.26" r="0.6" fill="#f5d000"/><circle cx="146.65" cy="327.00" r="0.6" fill="#f5d000"/><circle cx="143.90" cy="326.26" r="0.6" fill="#f5d000"/><circle cx="141.89" cy="324.25" r="0.6" fill="#f5d000"/><circle cx="141.15" cy="321.50" r="0.6" fill="#f5d000"/><circle cx="141.89" cy="318.75" r="0.6" fill="#f5d000"/><circle cx="143.90" cy="316.74" r="0.6" fill="#f5d000"/><circle cx="146.65" cy="316.00" r="0.6" fill="#f5d000"/><circle cx="149.40" cy="316.74" r="0.6" fill="#f5d000"/><circle cx="151.41" cy="318.75" r="0.6" fill="#f5d000"/>
<g fill="#646464" stroke="#646464" stroke-width="0"><path d="M193.80,284.90 H200.30 C207.20,284.90 208.20,288.40 208.20,292.65 C208.20,296.90 206.70,300.40 199.80,300.40 H193.80" fill="none" stroke-width="3.8"/><rect x="191.90" y="283.00" width="3.80" height="32.50"/><rect x="216.00" y="283.00" width="3.80" height="32.50"/><rect x="216.00" y="311.70" width="15.20" height="3.80"/></g>
</svg>
<svg class="cell" style="left:512px;top:341.400px" width="256" height="342" viewBox="0 0 256 342">
<rect x="6.0" y="4.1" width="159.4" height="331.0" rx="4" ry="4" fill="none" stroke="#c4f3fb" stroke-width="4.2"/>
<rect x="6.0" y="4.1" width="159.4" height="331.0" rx="4" ry="4" fill="none" stroke="#238bc4" stroke-width="2.0"/>
<text x="10.0" y="30.7" class="logo" textLength="25.6" lengthAdjust="spacingAndGlyphs">vida</text><circle cx="46.5" cy="29.05" r="10.6" fill="#1a1a1a"/><path d="M38.6,24.3 L46.2,35.2" stroke="#fff" stroke-width="2.6" fill="none"/><path d="M48.3,24.6 L40.4,35.2" stroke="#fff" stroke-width="2.6" fill="none"/><path d="M51.1,18.4 L50.8,31.6 C50.8,33.8 52,34.8 54.2,34.3" stroke="#fff" stroke-width="2.5" fill="none"/><text x="56.0" y="36.6" class="logo2" textLength="27.6" lengthAdjust="spacingAndGlyphs">.com</text>
<text transform="scale(0.8,1)" x="123.95 135.47 147.79 159.91 171.7 183.79" y="38.4" class="num">241121</text>
<line x1="10.8" y1="47.05" x2="160.8" y2="47.05" stroke="#2b90d0" stroke-width="1.4"/>
<rect x="11.5" y="56.6" width="43" height="42.6" rx="2.5" ry="2.5" fill="#fff" stroke="#3f90c6" stroke-width="1"/>
<path d="M27.4,59.5 L35.9,59.5 C35.9,69 40.5,75 46,82.5 C46.3,89 40,93.6 32,93.8 C24,93.6 17.6,89 18,82.5 C23.4,75 27.4,69 27.4,59.5 Z" fill="url(#chv)"/><path d="M27.4,59.5 L35.9,59.5 C35.9,69 40.5,75 46,82.5 C46.3,89 40,93.6 32,93.8 C24,93.6 17.6,89 18,82.5 C23.4,75 27.4,69 27.4,59.5 Z" fill="url(#chh)"/><path d="M28.2,61 C27.5,70 23,77 19.5,83 M29.6,61 C29.4,70 26.5,77 24.5,83 M31.1,61 L30.6,83 M32.6,61 L33.1,83 M34.1,61 C34.3,70 37.5,77 39.5,83 M35.4,61 C36,70 40.5,77 44.5,83 M20,84 C22,88 25,91.5 28,92.8 M25,84 L27.5,92.5 M30.5,84 L30.8,93.2 M34,84 L34.5,93 M39,84 L37,92.5 M44,84 C42,88 39,91.5 36,92.8" stroke="#d8eaf9" stroke-width="0.55" fill="none" opacity="0.85"/><path d="M27.5,66 L37.5,80 M36,66 L26,80 M24,74 L31,83 M40,74 L33,83" stroke="#e6f1fb" stroke-width="0.5" fill="none" opacity="0.7"/><path d="M27.4,59.5 L35.9,59.5 C35.9,69 40.5,75 46,82.5 C46.3,89 40,93.6 32,93.8 C24,93.6 17.6,89 18,82.5 C23.4,75 27.4,69 27.4,59.5 Z" fill="none" stroke="#5b94c9" stroke-width="0.6" opacity="0.8"/><rect x="27.4" y="59.4" width="8.5" height="1.8" fill="#4a88c2"/><line x1="18.6" y1="83.1" x2="45.6" y2="83.1" stroke="#4a78a8" stroke-width="0.9" stroke-dasharray="1.1,0.9"/><line x1="32" y1="93.5" x2="32" y2="96.5" stroke="#7fa9d4" stroke-width="0.7"/>
<text x="59.0" y="64.13" class="t" textLength="67.6" lengthAdjust="spacingAndGlyphs">Denna armatur är</text><text x="59.0" y="76.51" class="t" textLength="62.6" lengthAdjust="spacingAndGlyphs">kompatibel med</text><text x="59.0" y="88.89" class="t" textLength="71.2" lengthAdjust="spacingAndGlyphs">lampor av följande</text><text x="59.0" y="101.27" class="t" textLength="51.8" lengthAdjust="spacingAndGlyphs">energiklasser:</text>
<polygon points="11.2,122.00 33.60,122.00 41.40,129.80 33.60,137.60 11.2,137.60" fill="#16984a"/>
<g fill="#fff"><polygon points="14.70,135.45 18.55,124.60 21.05,124.60 24.90,135.45 22.40,135.45 19.80,127.20 17.20,135.45"/><rect x="16.70" y="131.85" width="6.20" height="1.75"/></g>
<rect x="25.35" y="125.88" width="4.1" height="1.25" fill="#fff"/><rect x="26.77" y="124.45" width="1.25" height="4.1" fill="#fff"/>
<rect x="30.35" y="125.88" width="4.1" height="1.25" fill="#fff"/><rect x="31.77" y="124.45" width="1.25" height="4.1" fill="#fff"/>
<polygon points="11.2,140.68 38.47,140.68 46.27,148.48 38.47,156.28 11.2,156.28" fill="#4cae3e"/>
<g fill="#fff"><polygon points="14.70,154.13 18.55,143.28 21.05,143.28 24.90,154.13 22.40,154.13 19.80,145.88 17.20,154.13"/><rect x="16.70" y="150.53" width="6.20" height="1.75"/></g>
<rect x="25.35" y="144.56" width="4.1" height="1.25" fill="#fff"/><rect x="26.77" y="143.13" width="1.25" height="4.1" fill="#fff"/>
<polygon points="11.2,159.36 43.34,159.36 51.14,167.16 43.34,174.96 11.2,174.96" fill="#c3d600"/>
<g fill="#fff"><polygon points="14.70,172.81 18.55,161.96 21.05,161.96 24.90,172.81 22.40,172.81 19.80,164.56 17.20,172.81"/><rect x="16.70" y="169.21" width="6.20" height="1.75"/></g>
<polygon points="11.2,178.04 48.21,178.04 56.01,185.84 48.21,193.64 11.2,193.64" fill="#ffec00"/>
<g fill="#fff"><rect x="16.00" y="180.64" width="2.10" height="10.85"/><path d="M17.05,181.59 H19.65 C21.55,181.59 21.55,185.87 19.65,185.87 H17.05 M19.65,185.87 C22.25,185.87 22.25,190.54 19.65,190.54 H17.05" fill="none" stroke="#fff" stroke-width="2.0"/></g>
<polygon points="11.2,196.72 53.08,196.72 60.88,204.52 53.08,212.32 11.2,212.32" fill="#f8b900"/>
<g fill="#fff"><path d="M22.25,200.87 C21.25,200.37 20.25,200.27 19.85,200.27 C17.05,200.27 16.25,202.87 16.25,204.75 C16.25,206.62 17.05,209.22 19.85,209.22 C20.25,209.22 21.25,209.12 22.25,208.62" fill="none" stroke="#fff" stroke-width="2.1"/></g>
<polygon points="11.2,215.40 57.95,215.40 65.75,223.20 57.95,231.00 11.2,231.00" fill="#ec6d0d"/>
<g fill="#fff"><rect x="15.90" y="218.00" width="2.10" height="10.85"/><path d="M16.95,218.95 H19.35 C22.85,218.95 23.35,221.45 23.35,223.43 C23.35,225.40 22.85,227.90 19.35,227.90 H16.95" fill="none" stroke="#fff" stroke-width="2.0"/></g>
<polygon points="11.2,234.08 62.82,234.08 70.62,241.88 62.82,249.68 11.2,249.68" fill="#e3061b"/>
<g fill="#fff"><rect x="15.70" y="236.68" width="2.10" height="10.85"/><rect x="15.70" y="236.68" width="6.30" height="1.90"/><rect x="15.70" y="241.15" width="5.80" height="1.85"/><rect x="15.70" y="245.63" width="6.50" height="1.90"/></g>
<path d="M85.8,120.3 L90,120.3 C99,120.3 103.6,124.5 103.6,131.5 L103.6,174.5 C103.6,180 107,183.6 110.9,184.8 C107,186 103.6,189.5 103.6,194.5 L103.6,239.5 C103.6,246.5 99,251.6 90,251.6 L85.8,251.6 L85.8,248.4 L90,248.4 C95.5,248.4 98.1,245 98.1,239 L98.1,194.5 C98.1,189.5 99.5,186.2 101.6,184.8 C99.5,183.4 98.1,180 98.1,175 L98.1,131.5 C98.1,126 95.5,123.6 90,123.6 L85.8,123.6 Z" fill="#139be0"/>
<g transform="translate(121.0,180.8) rotate(41.7)"><path d="M11.4,-3.2 C8,-3.5 5.5,-4.1 4.0,-5.1 A6.48,6.48 0 1 0 4.0,5.1 C5.5,4.1 8,3.5 11.4,3.2" fill="none" stroke="#3f8ec0" stroke-width="0.95"/><path d="M11.0,-3.6 L19.8,-1.7 Q20.5,0 19.8,1.7 L11.0,3.6 Z" fill="#1b9be0"/></g>
<text x="11.0" y="326.8" class="reg" textLength="38.8" lengthAdjust="spacingAndGlyphs">874/2012</text>
<rect x="133.7" y="313" width="25.9" height="17" fill="#1e3f93"/><circle cx="152.15" cy="321.50" r="0.6" fill="#f5d000"/><circle cx="151.41" cy="324.25" r="0.6" fill="#f5d000"/><circle cx="149.40" cy="326.26" r="0.6" fill="#f5d000"/><circle cx="146.65" cy="327.00" r="0.6" fill="#f5d000"/><circle cx="143.90" cy="326.26" r="0.6" fill="#f5d000"/><circle cx="141.89" cy="324.25" r="0.6" fill="#f5d000"/><circle cx="141.15" cy="321.50" r="0.6" fill="#f5d000"/><circle cx="141.89" cy="318.75" r="0.6" fill="#f5d000"/><circle cx="143.90" cy="316.74" r="0.6" fill="#f5d000"/><circle cx="146.65" cy="316.00" r="0.6" fill="#f5d000"/><circle cx="149.40" cy="316.74" r="0.6" fill="#f5d000"/><circle cx="151.41" cy="318.75" r="0.6" fill="#f5d000"/>
<g fill="#646464" stroke="#646464" stroke-width="0"><path d="M206.80,286.30 C204.40,284.90 201.90,284.60 199.90,284.60 C194.90,284.60 192.90,287.90 192.90,291.20 C192.90,296.25 195.90,297.95 200.15,299.25 C204.40,300.75 207.40,302.75 207.40,307.10 C207.40,311.60 204.40,313.90 199.40,313.90 C196.90,313.90 193.90,313.10 192.40,311.80" fill="none" stroke-width="3.8"/><rect x="215.30" y="283.00" width="3.80" height="32.50"/><rect x="215.30" y="283.00" width="15.50" height="3.80"/><rect x="215.30" y="297.30" width="14.70" height="3.90"/><rect x="215.30" y="311.70" width="15.90" height="3.80"/></g>
</svg>
<svg class="cell" style="left:768px;top:341.400px" width="256" height="342" viewBox="0 0 256 342">
<rect x="6.0" y="4.1" width="159.4" height="331.0" rx="4" ry="4" fill="none" stroke="#c4f3fb" stroke-width="4.2"/>
<rect x="6.0" y="4.1" width="159.4" height="331.0" rx="4" ry="4" fill="none" stroke="#238bc4" stroke-width="2.0"/>
<text x="10.0" y="30.7" class="logo" textLength="25.6" lengthAdjust="spacingAndGlyphs">vida</text><circle cx="46.5" cy="29.05" r="10.6" fill="#1a1a1a"/><path d="M38.6,24.3 L46.2,35.2" stroke="#fff" stroke-width="2.6" fill="none"/><path d="M48.3,24.6 L40.4,35.2" stroke="#fff" stroke-width="2.6" fill="none"/><path d="M51.1,18.4 L50.8,31.6 C50.8,33.8 52,34.8 54.2,34.3" stroke="#fff" stroke-width="2.5" fill="none"/><text x="56.0" y="36.6" class="logo2" textLength="27.6" lengthAdjust="spacingAndGlyphs">.com</text>
<text transform="scale(0.8,1)" x="123.95 135.47 147.79 159.91 171.7 183.79" y="38.4" class="num">241121</text>
<line x1="10.8" y1="47.05" x2="160.8" y2="47.05" stroke="#2b90d0" stroke-width="1.4"/>
<rect x="11.5" y="56.6" width="43" height="42.6" rx="2.5" ry="2.5" fill="#fff" stroke="#3f90c6" stroke-width="1"/>
<path d="M27.4,59.5 L35.9,59.5 C35.9,69 40.5,75 46,82.5 C46.3,89 40,93.6 32,93.8 C24,93.6 17.6,89 18,82.5 C23.4,75 27.4,69 27.4,59.5 Z" fill="url(#chv)"/><path d="M27.4,59.5 L35.9,59.5 C35.9,69 40.5,75 46,82.5 C46.3,89 40,93.6 32,93.8 C24,93.6 17.6,89 18,82.5 C23.4,75 27.4,69 27.4,59.5 Z" fill="url(#chh)"/><path d="M28.2,61 C27.5,70 23,77 19.5,83 M29.6,61 C29.4,70 26.5,77 24.5,83 M31.1,61 L30.6,83 M32.6,61 L33.1,83 M34.1,61 C34.3,70 37.5,77 39.5,83 M35.4,61 C36,70 40.5,77 44.5,83 M20,84 C22,88 25,91.5 28,92.8 M25,84 L27.5,92.5 M30.5,84 L30.8,93.2 M34,84 L34.5,93 M39,84 L37,92.5 M44,84 C42,88 39,91.5 36,92.8" stroke="#d8eaf9" stroke-width="0.55" fill="none" opacity="0.85"/><path d="M27.5,66 L37.5,80 M36,66 L26,80 M24,74 L31,83 M40,74 L33,83" stroke="#e6f1fb" stroke-width="0.5" fill="none" opacity="0.7"/><path d="M27.4,59.5 L35.9,59.5 C35.9,69 40.5,75 46,82.5 C46.3,89 40,93.6 32,93.8 C24,93.6 17.6,89 18,82.5 C23.4,75 27.4,69 27.4,59.5 Z" fill="none" stroke="#5b94c9" stroke-width="0.6" opacity="0.8"/><rect x="27.4" y="59.4" width="8.5" height="1.8" fill="#4a88c2"/><line x1="18.6" y1="83.1" x2="45.6" y2="83.1" stroke="#4a78a8" stroke-width="0.9" stroke-dasharray="1.1,0.9"/><line x1="32" y1="93.5" x2="32" y2="96.5" stroke="#7fa9d4" stroke-width="0.7"/>
<text x="59.0" y="64.13" class="t" textLength="64.3" lengthAdjust="spacingAndGlyphs">Esta luminaria es</text><text x="59.0" y="76.51" class="t" textLength="71.7" lengthAdjust="spacingAndGlyphs">compatible con las</text><text x="59.0" y="88.89" class="t" textLength="86.7" lengthAdjust="spacingAndGlyphs">bombillas de las clases</text><text x="59.0" y="101.27" class="t" textLength="51.8" lengthAdjust="spacingAndGlyphs">de la energía:</text>
<polygon points="11.2,122.00 33.60,122.00 41.40,129.80 33.60,137.60 11.2,137.60" fill="#16984a"/>
<g fill="#fff"><polygon points="14.70,135.45 18.55,124.60 21.05,124.60 24.90,135.45 22.40,135.45 19.80,127.20 17.20,135.45"/><rect x="16.70" y="131.85" width="6.20" height="1.75"/></g>
<rect x="25.35" y="125.88" width="4.1" height="1.25" fill="#fff"/><rect x="26.77" y="124.45" width="1.25" height="4.1" fill="#fff"/>
<rect x="30.35" y="125.88" width="4.1" height="1.25" fill="#fff"/><rect x="31.77" y="124.45" width="1.25" height="4.1" fill="#fff"/>
<polygon points="11.2,140.68 38.47,140.68 46.27,148.48 38.47,156.28 11.2,156.28" fill="#4cae3e"/>
<g fill="#fff"><polygon points="14.70,154.13 18.55,143.28 21.05,143.28 24.90,154.13 22.40,154.13 19.80,145.88 17.20,154.13"/><rect x="16.70" y="150.53" width="6.20" height="1.75"/></g>
<rect x="25.35" y="144.56" width="4.1" height="1.25" fill="#fff"/><rect x="26.77" y="143.13" width="1.25" height="4.1" fill="#fff"/>
<polygon points="11.2,159.36 43.34,159.36 51.14,167.16 43.34,174.96 11.2,174.96" fill="#c3d600"/>
<g fill="#fff"><polygon points="14.70,172.81 18.55,161.96 21.05,161.96 24.90,172.81 22.40,172.81 19.80,164.56 17.20,172.81"/><rect x="16.70" y="169.21" width="6.20" height="1.75"/></g>
<polygon points="11.2,178.04 48.21,178.04 56.01,185.84 48.21,193.64 11.2,193.64" fill="#ffec00"/>
<g fill="#fff"><rect x="16.00" y="180.64" width="2.10" height="10.85"/><path d="M17.05,181.59 H19.65 C21.55,181.59 21.55,185.87 19.65,185.87 H17.05 M19.65,185.87 C22.25,185.87 22.25,190.54 19.65,190.54 H17.05" fill="none" stroke="#fff" stroke-width="2.0"/></g>
<polygon points="11.2,196.72 53.08,196.72 60.88,204.52 53.08,212.32 11.2,212.32" fill="#f8b900"/>
<g fill="#fff"><path d="M22.25,200.87 C21.25,200.37 20.25,200.27 19.85,200.27 C17.05,200.27 16.25,202.87 16.25,204.75 C16.25,206.62 17.05,209.22 19.85,209.22 C20.25,209.22 21.25,209.12 22.25,208.62" fill="none" stroke="#fff" stroke-width="2.1"/></g>
<polygon points="11.2,215.40 57.95,215.40 65.75,223.20 57.95,231.00 11.2,231.00" fill="#ec6d0d"/>
<g fill="#fff"><rect x="15.90" y="218.00" width="2.10" height="10.85"/><path d="M16.95,218.95 H19.35 C22.85,218.95 23.35,221.45 23.35,223.43 C23.35,225.40 22.85,227.90 19.35,227.90 H16.95" fill="none" stroke="#fff" stroke-width="2.0"/></g>
<polygon points="11.2,234.08 62.82,234.08 70.62,241.88 62.82,249.68 11.2,249.68" fill="#e3061b"/>
<g fill="#fff"><rect x="15.70" y="236.68" width="2.10" height="10.85"/><rect x="15.70" y="236.68" width="6.30" height="1.90"/><rect x="15.70" y="241.15" width="5.80" height="1.85"/><rect x="15.70" y="245.63" width="6.50" height="1.90"/></g>
<path d="M85.8,120.3 L90,120.3 C99,120.3 103.6,124.5 103.6,131.5 L103.6,174.5 C103.6,180 107,183.6 110.9,184.8 C107,186 103.6,189.5 103.6,194.5 L103.6,239.5 C103.6,246.5 99,251.6 90,251.6 L85.8,251.6 L85.8,248.4 L90,248.4 C95.5,248.4 98.1,245 98.1,239 L98.1,194.5 C98.1,189.5 99.5,186.2 101.6,184.8 C99.5,183.4 98.1,180 98.1,175 L98.1,131.5 C98.1,126 95.5,123.6 90,123.6 L85.8,123.6 Z" fill="#139be0"/>
<g transform="translate(121.0,180.8) rotate(41.7)"><path d="M11.4,-3.2 C8,-3.5 5.5,-4.1 4.0,-5.1 A6.48,6.48 0 1 0 4.0,5.1 C5.5,4.1 8,3.5 11.4,3.2" fill="none" stroke="#3f8ec0" stroke-width="0.95"/><path d="M11.0,-3.6 L19.8,-1.7 Q20.5,0 19.8,1.7 L11.0,3.6 Z" fill="#1b9be0"/></g>
<text x="11.0" y="326.8" class="reg" textLength="38.8" lengthAdjust="spacingAndGlyphs">874/2012</text>
<rect x="133.7" y="313" width="25.9" height="17" fill="#1e3f93"/><circle cx="152.15" cy="321.50" r="0.6" fill="#f5d000"/><circle cx="151.41" cy="324.25" r="0.6" fill="#f5d000"/><circle cx="149.40" cy="326.26" r="0.6" fill="#f5d000"/><circle cx="146.65" cy="327.00" r="0.6" fill="#f5d000"/><circle cx="143.90" cy="326.26" r="0.6" fill="#f5d000"/><circle cx="141.89" cy="324.25" r="0.6" fill="#f5d000"/><circle cx="141.15" cy="321.50" r="0.6" fill="#f5d000"/><circle cx="141.89" cy="318.75" r="0.6" fill="#f5d000"/><circle cx="143.90" cy="316.74" r="0.6" fill="#f5d000"/><circle cx="146.65" cy="316.00" r="0.6" fill="#f5d000"/><circle cx="149.40" cy="316.74" r="0.6" fill="#f5d000"/><circle cx="151.41" cy="318.75" r="0.6" fill="#f5d000"/>
<g fill="#646464" stroke="#646464" stroke-width="0"><rect x="191.10" y="283.00" width="3.80" height="32.50"/><rect x="191.10" y="283.00" width="15.60" height="3.80"/><rect x="191.10" y="297.30" width="14.80" height="3.90"/><rect x="191.10" y="311.70" width="16.00" height="3.80"/><path d="M227.20,286.30 C224.80,284.90 222.10,284.60 220.10,284.60 C215.10,284.60 213.10,287.90 213.10,291.20 C213.10,296.25 216.10,297.95 220.45,299.25 C224.80,300.75 227.80,302.75 227.80,307.10 C227.80,311.60 224.80,313.90 219.60,313.90 C217.10,313.90 214.10,313.10 212.60,311.80" fill="none" stroke-width="3.8"/></g>
</svg>
<svg class="cell" style="left:0px;top:682.800px" width="256" height="342" viewBox="0 0 256 342">
<rect x="6.0" y="4.1" width="159.4" height="331.0" rx="4" ry="4" fill="none" stroke="#c4f3fb" stroke-width="4.2"/>
<rect x="6.0" y="4.1" width="159.4" height="331.0" rx="4" ry="4" fill="none" stroke="#238bc4" stroke-width="2.0"/>
<text x="10.0" y="30.7" class="logo" textLength="25.6" lengthAdjust="spacingAndGlyphs">vida</text><circle cx="46.5" cy="29.05" r="10.6" fill="#1a1a1a"/><path d="M38.6,24.3 L46.2,35.2" stroke="#fff" stroke-width="2.6" fill="none"/><path d="M48.3,24.6 L40.4,35.2" stroke="#fff" stroke-width="2.6" fill="none"/><path d="M51.1,18.4 L50.8,31.6 C50.8,33.8 52,34.8 54.2,34.3" stroke="#fff" stroke-width="2.5" fill="none"/><text x="56.0" y="36.6" class="logo2" textLength="27.6" lengthAdjust="spacingAndGlyphs">.com</text>
<text transform="scale(0.8,1)" x="123.95 135.47 147.79 159.91 171.7 183.79" y="38.4" class="num">241121</text>
<line x1="10.8" y1="47.05" x2="160.8" y2="47.05" stroke="#2b90d0" stroke-width="1.4"/>
<rect x="11.5" y="56.6" width="43" height="42.6" rx="2.5" ry="2.5" fill="#fff" stroke="#3f90c6" stroke-width="1"/>
<path d="M27.4,59.5 L35.9,59.5 C35.9,69 40.5,75 46,82.5 C46.3,89 40,93.6 32,93.8 C24,93.6 17.6,89 18,82.5 C23.4,75 27.4,69 27.4,59.5 Z" fill="url(#chv)"/><path d="M27.4,59.5 L35.9,59.5 C35.9,69 40.5,75 46,82.5 C46.3,89 40,93.6 32,93.8 C24,93.6 17.6,89 18,82.5 C23.4,75 27.4,69 27.4,59.5 Z" fill="url(#chh)"/><path d="M28.2,61 C27.5,70 23,77 19.5,83 M29.6,61 C29.4,70 26.5,77 24.5,83 M31.1,61 L30.6,83 M32.6,61 L33.1,83 M34.1,61 C34.3,70 37.5,77 39.5,83 M35.4,61 C36,70 40.5,77 44.5,83 M20,84 C22,88 25,91.5 28,92.8 M25,84 L27.5,92.5 M30.5,84 L30.8,93.2 M34,84 L34.5,93 M39,84 L37,92.5 M44,84 C42,88 39,91.5 36,92.8" stroke="#d8eaf9" stroke-width="0.55" fill="none" opacity="0.85"/><path d="M27.5,66 L37.5,80 M36,66 L26,80 M24,74 L31,83 M40,74 L33,83" stroke="#e6f1fb" stroke-width="0.5" fill="none" opacity="0.7"/><path d="M27.4,59.5 L35.9,59.5 C35.9,69 40.5,75 46,82.5 C46.3,89 40,93.6 32,93.8 C24,93.6 17.6,89 18,82.5 C23.4,75 27.4,69 27.4,59.5 Z" fill="none" stroke="#5b94c9" stroke-width="0.6" opacity="0.8"/><rect x="27.4" y="59.4" width="8.5" height="1.8" fill="#4a88c2"/><line x1="18.6" y1="83.1" x2="45.6" y2="83.1" stroke="#4a78a8" stroke-width="0.9" stroke-dasharray="1.1,0.9"/><line x1="32" y1="93.5" x2="32" y2="96.5" stroke="#7fa9d4" stroke-width="0.7"/>
<text x="59.0" y="70.32" class="t" textLength="60.6" lengthAdjust="spacingAndGlyphs">Esta luminária é</text><text x="59.0" y="82.70" class="t" textLength="89.2" lengthAdjust="spacingAndGlyphs">compatível com bulbos</text><text x="59.0" y="95.08" class="t" textLength="86.7" lengthAdjust="spacingAndGlyphs">das classes de energia:</text>
<polygon points="11.2,122.00 33.60,122.00 41.40,129.80 33.60,137.60 11.2,137.60" fill="#16984a"/>
<g fill="#fff"><polygon points="14.70,135.45 18.55,124.60 21.05,124.60 24.90,135.45 22.40,135.45 19.80,127.20 17.20,135.45"/><rect x="16.70" y="131.85" width="6.20" height="1.75"/></g>
<rect x="25.35" y="125.88" width="4.1" height="1.25" fill="#fff"/><rect x="26.77" y="124.45" width="1.25" height="4.1" fill="#fff"/>
<rect x="30.35" y="125.88" width="4.1" height="1.25" fill="#fff"/><rect x="31.77" y="124.45" width="1.25" height="4.1" fill="#fff"/>
<polygon points="11.2,140.68 38.47,140.68 46.27,148.48 38.47,156.28 11.2,156.28" fill="#4cae3e"/>
<g fill="#fff"><polygon points="14.70,154.13 18.55,143.28 21.05,143.28 24.90,154.13 22.40,154.13 19.80,145.88 17.20,154.13"/><rect x="16.70" y="150.53" width="6.20" height="1.75"/></g>
<rect x="25.35" y="144.56" width="4.1" height="1.25" fill="#fff"/><rect x="26.77" y="143.13" width="1.25" height="4.1" fill="#fff"/>
<polygon points="11.2,159.36 43.34,159.36 51.14,167.16 43.34,174.96 11.2,174.96" fill="#c3d600"/>
<g fill="#fff"><polygon points="14.70,172.81 18.55,161.96 21.05,161.96 24.90,172.81 22.40,172.81 19.80,164.56 17.20,172.81"/><rect x="16.70" y="169.21" width="6.20" height="1.75"/></g>
<polygon points="11.2,178.04 48.21,178.04 56.01,185.84 48.21,193.64 11.2,193.64" fill="#ffec00"/>
<g fill="#fff"><rect x="16.00" y="180.64" width="2.10" height="10.85"/><path d="M17.05,181.59 H19.65 C21.55,181.59 21.55,185.87 19.65,185.87 H17.05 M19.65,185.87 C22.25,185.87 22.25,190.54 19.65,190.54 H17.05" fill="none" stroke="#fff" stroke-width="2.0"/></g>
<polygon points="11.2,196.72 53.08,196.72 60.88,204.52 53.08,212.32 11.2,212.32" fill="#f8b900"/>
<g fill="#fff"><path d="M22.25,200.87 C21.25,200.37 20.25,200.27 19.85,200.27 C17.05,200.27 16.25,202.87 16.25,204.75 C16.25,206.62 17.05,209.22 19.85,209.22 C20.25,209.22 21.25,209.12 22.25,208.62" fill="none" stroke="#fff" stroke-width="2.1"/></g>
<polygon points="11.2,215.40 57.95,215.40 65.75,223.20 57.95,231.00 11.2,231.00" fill="#ec6d0d"/>
<g fill="#fff"><rect x="15.90" y="218.00" width="2.10" height="10.85"/><path d="M16.95,218.95 H19.35 C22.85,218.95 23.35,221.45 23.35,223.43 C23.35,225.40 22.85,227.90 19.35,227.90 H16.95" fill="none" stroke="#fff" stroke-width="2.0"/></g>
<polygon points="11.2,234.08 62.82,234.08 70.62,241.88 62.82,249.68 11.2,249.68" fill="#e3061b"/>
<g fill="#fff"><rect x="15.70" y="236.68" width="2.10" height="10.85"/><rect x="15.70" y="236.68" width="6.30" height="1.90"/><rect x="15.70" y="241.15" width="5.80" height="1.85"/><rect x="15.70" y="245.63" width="6.50" height="1.90"/></g>
<path d="M85.8,120.3 L90,120.3 C99,120.3 103.6,124.5 103.6,131.5 L103.6,174.5 C103.6,180 107,183.6 110.9,184.8 C107,186 103.6,189.5 103.6,194.5 L103.6,239.5 C103.6,246.5 99,251.6 90,251.6 L85.8,251.6 L85.8,248.4 L90,248.4 C95.5,248.4 98.1,245 98.1,239 L98.1,194.5 C98.1,189.5 99.5,186.2 101.6,184.8 C99.5,183.4 98.1,180 98.1,175 L98.1,131.5 C98.1,126 95.5,123.6 90,123.6 L85.8,123.6 Z" fill="#139be0"/>
<g transform="translate(121.0,180.8) rotate(41.7)"><path d="M11.4,-3.2 C8,-3.5 5.5,-4.1 4.0,-5.1 A6.48,6.48 0 1 0 4.0,5.1 C5.5,4.1 8,3.5 11.4,3.2" fill="none" stroke="#3f8ec0" stroke-width="0.95"/><path d="M11.0,-3.6 L19.8,-1.7 Q20.5,0 19.8,1.7 L11.0,3.6 Z" fill="#1b9be0"/></g>
<text x="11.0" y="326.8" class="reg" textLength="38.8" lengthAdjust="spacingAndGlyphs">874/2012</text>
<rect x="133.7" y="313" width="25.9" height="17" fill="#1e3f93"/><circle cx="152.15" cy="321.50" r="0.6" fill="#f5d000"/><circle cx="151.41" cy="324.25" r="0.6" fill="#f5d000"/><circle cx="149.40" cy="326.26" r="0.6" fill="#f5d000"/><circle cx="146.65" cy="327.00" r="0.6" fill="#f5d000"/><circle cx="143.90" cy="326.26" r="0.6" fill="#f5d000"/><circle cx="141.89" cy="324.25" r="0.6" fill="#f5d000"/><circle cx="141.15" cy="321.50" r="0.6" fill="#f5d000"/><circle cx="141.89" cy="318.75" r="0.6" fill="#f5d000"/><circle cx="143.90" cy="316.74" r="0.6" fill="#f5d000"/><circle cx="146.65" cy="316.00" r="0.6" fill="#f5d000"/><circle cx="149.40" cy="316.74" r="0.6" fill="#f5d000"/><circle cx="151.41" cy="318.75" r="0.6" fill="#f5d000"/>
<g fill="#646464" stroke="#646464" stroke-width="0"><path d="M193.80,284.90 H200.30 C207.20,284.90 208.20,288.40 208.20,292.65 C208.20,296.90 206.70,300.40 199.80,300.40 H193.80" fill="none" stroke-width="3.8"/><rect x="191.90" y="283.00" width="3.80" height="32.50"/><rect x="212.70" y="283.00" width="20.80" height="3.80"/><rect x="221.20" y="283.00" width="3.80" height="32.50"/></g>
</svg>
<svg class="cell" style="left:256px;top:682.800px" width="256" height="342" viewBox="0 0 256 342">
<rect x="6.0" y="4.1" width="159.4" height="331.0" rx="4" ry="4" fill="none" stroke="#c4f3fb" stroke-width="4.2"/>
<rect x="6.0" y="4.1" width="159.4" height="331.0" rx="4" ry="4" fill="none" stroke="#238bc4" stroke-width="2.0"/>
<text x="10.0" y="30.7" class="logo" textLength="25.6" lengthAdjust="spacingAndGlyphs">vida</text><circle cx="46.5" cy="29.05" r="10.6" fill="#1a1a1a"/><path d="M38.6,24.3 L46.2,35.2" stroke="#fff" stroke-width="2.6" fill="none"/><path d="M48.3,24.6 L40.4,35.2" stroke="#fff" stroke-width="2.6" fill="none"/><path d="M51.1,18.4 L50.8,31.6 C50.8,33.8 52,34.8 54.2,34.3" stroke="#fff" stroke-width="2.5" fill="none"/><text x="56.0" y="36.6" class="logo2" textLength="27.6" lengthAdjust="spacingAndGlyphs">.com</text>
<text transform="scale(0.8,1)" x="123.95 135.47 147.79 159.91 171.7 183.79" y="38.4" class="num">241121</text>
<line x1="10.8" y1="47.05" x2="160.8" y2="47.05" stroke="#2b90d0" stroke-width="1.4"/>
<rect x="11.5" y="56.6" width="43" height="42.6" rx="2.5" ry="2.5" fill="#fff" stroke="#3f90c6" stroke-width="1"/>
<path d="M27.4,59.5 L35.9,59.5 C35.9,69 40.5,75 46,82.5 C46.3,89 40,93.6 32,93.8 C24,93.6 17.6,89 18,82.5 C23.4,75 27.4,69 27.4,59.5 Z" fill="url(#chv)"/><path d="M27.4,59.5 L35.9,59.5 C35.9,69 40.5,75 46,82.5 C46.3,89 40,93.6 32,93.8 C24,93.6 17.6,89 18,82.5 C23.4,75 27.4,69 27.4,59.5 Z" fill="url(#chh)"/><path d="M28.2,61 C27.5,70 23,77 19.5,83 M29.6,61 C29.4,70 26.5,77 24.5,83 M31.1,61 L30.6,83 M32.6,61 L33.1,83 M34.1,61 C34.3,70 37.5,77 39.5,83 M35.4,61 C36,70 40.5,77 44.5,83 M20,84 C22,88 25,91.5 28,92.8 M25,84 L27.5,92.5 M30.5,84 L30.8,93.2 M34,84 L34.5,93 M39,84 L37,92.5 M44,84 C42,88 39,91.5 36,92.8" stroke="#d8eaf9" stroke-width="0.55" fill="none" opacity="0.85"/><path d="M27.5,66 L37.5,80 M36,66 L26,80 M24,74 L31,83 M40,74 L33,83" stroke="#e6f1fb" stroke-width="0.5" fill="none" opacity="0.7"/><path d="M27.4,59.5 L35.9,59.5 C35.9,69 40.5,75 46,82.5 C46.3,89 40,93.6 32,93.8 C24,93.6 17.6,89 18,82.5 C23.4,75 27.4,69 27.4,59.5 Z" fill="none" stroke="#5b94c9" stroke-width="0.6" opacity="0.8"/><rect x="27.4" y="59.4" width="8.5" height="1.8" fill="#4a88c2"/><line x1="18.6" y1="83.1" x2="45.6" y2="83.1" stroke="#4a78a8" stroke-width="0.9" stroke-dasharray="1.1,0.9"/><line x1="32" y1="93.5" x2="32" y2="96.5" stroke="#7fa9d4" stroke-width="0.7"/>
<text x="59.0" y="70.32" class="t" textLength="95.8" lengthAdjust="spacingAndGlyphs">Αυτό το φωτιστικό είναι</text><text x="59.0" y="82.70" class="t" textLength="75.9" lengthAdjust="spacingAndGlyphs">συμβατό με λάμπες</text><text x="59.0" y="95.08" class="t" textLength="79.2" lengthAdjust="spacingAndGlyphs">ενεργειακής κλάσης:</text>
<polygon points="11.2,122.00 33.60,122.00 41.40,129.80 33.60,137.60 11.2,137.60" fill="#16984a"/>
<g fill="#fff"><polygon points="14.70,135.45 18.55,124.60 21.05,124.60 24.90,135.45 22.40,135.45 19.80,127.20 17.20,135.45"/><rect x="16.70" y="131.85" width="6.20" height="1.75"/></g>
<rect x="25.35" y="125.88" width="4.1" height="1.25" fill="#fff"/><rect x="26.77" y="124.45" width="1.25" height="4.1" fill="#fff"/>
<rect x="30.35" y="125.88" width="4.1" height="1.25" fill="#fff"/><rect x="31.77" y="124.45" width="1.25" height="4.1" fill="#fff"/>
<polygon points="11.2,140.68 38.47,140.68 46.27,148.48 38.47,156.28 11.2,156.28" fill="#4cae3e"/>
<g fill="#fff"><polygon points="14.70,154.13 18.55,143.28 21.05,143.28 24.90,154.13 22.40,154.13 19.80,145.88 17.20,154.13"/><rect x="16.70" y="150.53" width="6.20" height="1.75"/></g>
<rect x="25.35" y="144.56" width="4.1" height="1.25" fill="#fff"/><rect x="26.77" y="143.13" width="1.25" height="4.1" fill="#fff"/>
<polygon points="11.2,159.36 43.34,159.36 51.14,167.16 43.34,174.96 11.2,174.96" fill="#c3d600"/>
<g fill="#fff"><polygon points="14.70,172.81 18.55,161.96 21.05,161.96 24.90,172.81 22.40,172.81 19.80,164.56 17.20,172.81"/><rect x="16.70" y="169.21" width="6.20" height="1.75"/></g>
<polygon points="11.2,178.04 48.21,178.04 56.01,185.84 48.21,193.64 11.2,193.64" fill="#ffec00"/>
<g fill="#fff"><rect x="16.00" y="180.64" width="2.10" height="10.85"/><path d="M17.05,181.59 H19.65 C21.55,181.59 21.55,185.87 19.65,185.87 H17.05 M19.65,185.87 C22.25,185.87 22.25,190.54 19.65,190.54 H17.05" fill="none" stroke="#fff" stroke-width="2.0"/></g>
<polygon points="11.2,196.72 53.08,196.72 60.88,204.52 53.08,212.32 11.2,212.32" fill="#f8b900"/>
<g fill="#fff"><path d="M22.25,200.87 C21.25,200.37 20.25,200.27 19.85,200.27 C17.05,200.27 16.25,202.87 16.25,204.75 C16.25,206.62 17.05,209.22 19.85,209.22 C20.25,209.22 21.25,209.12 22.25,208.62" fill="none" stroke="#fff" stroke-width="2.1"/></g>
<polygon points="11.2,215.40 57.95,215.40 65.75,223.20 57.95,231.00 11.2,231.00" fill="#ec6d0d"/>
<g fill="#fff"><rect x="15.90" y="218.00" width="2.10" height="10.85"/><path d="M16.95,218.95 H19.35 C22.85,218.95 23.35,221.45 23.35,223.43 C23.35,225.40 22.85,227.90 19.35,227.90 H16.95" fill="none" stroke="#fff" stroke-width="2.0"/></g>
<polygon points="11.2,234.08 62.82,234.08 70.62,241.88 62.82,249.68 11.2,249.68" fill="#e3061b"/>
<g fill="#fff"><rect x="15.70" y="236.68" width="2.10" height="10.85"/><rect x="15.70" y="236.68" width="6.30" height="1.90"/><rect x="15.70" y="241.15" width="5.80" height="1.85"/><rect x="15.70" y="245.63" width="6.50" height="1.90"/></g>
<path d="M85.8,120.3 L90,120.3 C99,120.3 103.6,124.5 103.6,131.5 L103.6,174.5 C103.6,180 107,183.6 110.9,184.8 C107,186 103.6,189.5 103.6,194.5 L103.6,239.5 C103.6,246.5 99,251.6 90,251.6 L85.8,251.6 L85.8,248.4 L90,248.4 C95.5,248.4 98.1,245 98.1,239 L98.1,194.5 C98.1,189.5 99.5,186.2 101.6,184.8 C99.5,183.4 98.1,180 98.1,175 L98.1,131.5 C98.1,126 95.5,123.6 90,123.6 L85.8,123.6 Z" fill="#139be0"/>
<g transform="translate(121.0,180.8) rotate(41.7)"><path d="M11.4,-3.2 C8,-3.5 5.5,-4.1 4.0,-5.1 A6.48,6.48 0 1 0 4.0,5.1 C5.5,4.1 8,3.5 11.4,3.2" fill="none" stroke="#3f8ec0" stroke-width="0.95"/><path d="M11.0,-3.6 L19.8,-1.7 Q20.5,0 19.8,1.7 L11.0,3.6 Z" fill="#1b9be0"/></g>
<text x="11.0" y="326.8" class="reg" textLength="38.8" lengthAdjust="spacingAndGlyphs">874/2012</text>
<rect x="133.7" y="313" width="25.9" height="17" fill="#1e3f93"/><circle cx="152.15" cy="321.50" r="0.6" fill="#f5d000"/><circle cx="151.41" cy="324.25" r="0.6" fill="#f5d000"/><circle cx="149.40" cy="326.26" r="0.6" fill="#f5d000"/><circle cx="146.65" cy="327.00" r="0.6" fill="#f5d000"/><circle cx="143.90" cy="326.26" r="0.6" fill="#f5d000"/><circle cx="141.89" cy="324.25" r="0.6" fill="#f5d000"/><circle cx="141.15" cy="321.50" r="0.6" fill="#f5d000"/><circle cx="141.89" cy="318.75" r="0.6" fill="#f5d000"/><circle cx="143.90" cy="316.74" r="0.6" fill="#f5d000"/><circle cx="146.65" cy="316.00" r="0.6" fill="#f5d000"/><circle cx="149.40" cy="316.74" r="0.6" fill="#f5d000"/><circle cx="151.41" cy="318.75" r="0.6" fill="#f5d000"/>
<g fill="#646464" stroke="#646464" stroke-width="0"><rect x="191.90" y="283.00" width="3.80" height="32.50"/><rect x="191.90" y="283.00" width="15.50" height="3.80"/><rect x="191.90" y="297.30" width="14.70" height="3.90"/><rect x="191.90" y="311.70" width="15.90" height="3.80"/><rect x="213.00" y="283.00" width="3.80" height="32.50"/><rect x="213.00" y="311.70" width="16.00" height="3.80"/></g>
</svg>
<svg class="cell" style="left:512px;top:682.800px" width="256" height="342" viewBox="0 0 256 342">
<rect x="6.0" y="4.1" width="159.4" height="331.0" rx="4" ry="4" fill="none" stroke="#c4f3fb" stroke-width="4.2"/>
<rect x="6.0" y="4.1" width="159.4" height="331.0" rx="4" ry="4" fill="none" stroke="#238bc4" stroke-width="2.0"/>
<text x="10.0" y="30.7" class="logo" textLength="25.6" lengthAdjust="spacingAndGlyphs">vida</text><circle cx="46.5" cy="29.05" r="10.6" fill="#1a1a1a"/><path d="M38.6,24.3 L46.2,35.2" stroke="#fff" stroke-width="2.6" fill="none"/><path d="M48.3,24.6 L40.4,35.2" stroke="#fff" stroke-width="2.6" fill="none"/><path d="M51.1,18.4 L50.8,31.6 C50.8,33.8 52,34.8 54.2,34.3" stroke="#fff" stroke-width="2.5" fill="none"/><text x="56.0" y="36.6" class="logo2" textLength="27.6" lengthAdjust="spacingAndGlyphs">.com</text>
<text transform="scale(0.8,1)" x="123.95 135.47 147.79 159.91 171.7 183.79" y="38.4" class="num">241121</text>
<line x1="10.8" y1="47.05" x2="160.8" y2="47.05" stroke="#2b90d0" stroke-width="1.4"/>
<rect x="11.5" y="56.6" width="43" height="42.6" rx="2.5" ry="2.5" fill="#fff" stroke="#3f90c6" stroke-width="1"/>
<path d="M27.4,59.5 L35.9,59.5 C35.9,69 40.5,75 46,82.5 C46.3,89 40,93.6 32,93.8 C24,93.6 17.6,89 18,82.5 C23.4,75 27.4,69 27.4,59.5 Z" fill="url(#chv)"/><path d="M27.4,59.5 L35.9,59.5 C35.9,69 40.5,75 46,82.5 C46.3,89 40,93.6 32,93.8 C24,93.6 17.6,89 18,82.5 C23.4,75 27.4,69 27.4,59.5 Z" fill="url(#chh)"/><path d="M28.2,61 C27.5,70 23,77 19.5,83 M29.6,61 C29.4,70 26.5,77 24.5,83 M31.1,61 L30.6,83 M32.6,61 L33.1,83 M34.1,61 C34.3,70 37.5,77 39.5,83 M35.4,61 C36,70 40.5,77 44.5,83 M20,84 C22,88 25,91.5 28,92.8 M25,84 L27.5,92.5 M30.5,84 L30.8,93.2 M34,84 L34.5,93 M39,84 L37,92.5 M44,84 C42,88 39,91.5 36,92.8" stroke="#d8eaf9" stroke-width="0.55" fill="none" opacity="0.85"/><path d="M27.5,66 L37.5,80 M36,66 L26,80 M24,74 L31,83 M40,74 L33,83" stroke="#e6f1fb" stroke-width="0.5" fill="none" opacity="0.7"/><path d="M27.4,59.5 L35.9,59.5 C35.9,69 40.5,75 46,82.5 C46.3,89 40,93.6 32,93.8 C24,93.6 17.6,89 18,82.5 C23.4,75 27.4,69 27.4,59.5 Z" fill="none" stroke="#5b94c9" stroke-width="0.6" opacity="0.8"/><rect x="27.4" y="59.4" width="8.5" height="1.8" fill="#4a88c2"/><line x1="18.6" y1="83.1" x2="45.6" y2="83.1" stroke="#4a78a8" stroke-width="0.9" stroke-dasharray="1.1,0.9"/><line x1="32" y1="93.5" x2="32" y2="96.5" stroke="#7fa9d4" stroke-width="0.7"/>
<text x="59.0" y="70.32" class="t" textLength="63.9" lengthAdjust="spacingAndGlyphs">Dette armatur er</text><text x="59.0" y="82.70" class="t" textLength="87.2" lengthAdjust="spacingAndGlyphs">kompatibel med løg af</text><text x="59.0" y="95.08" class="t" textLength="51.8" lengthAdjust="spacingAndGlyphs">energiklasser:</text>
<polygon points="11.2,122.00 33.60,122.00 41.40,129.80 33.60,137.60 11.2,137.60" fill="#16984a"/>
<g fill="#fff"><polygon points="14.70,135.45 18.55,124.60 21.05,124.60 24.90,135.45 22.40,135.45 19.80,127.20 17.20,135.45"/><rect x="16.70" y="131.85" width="6.20" height="1.75"/></g>
<rect x="25.35" y="125.88" width="4.1" height="1.25" fill="#fff"/><rect x="26.77" y="124.45" width="1.25" height="4.1" fill="#fff"/>
<rect x="30.35" y="125.88" width="4.1" height="1.25" fill="#fff"/><rect x="31.77" y="124.45" width="1.25" height="4.1" fill="#fff"/>
<polygon points="11.2,140.68 38.47,140.68 46.27,148.48 38.47,156.28 11.2,156.28" fill="#4cae3e"/>
<g fill="#fff"><polygon points="14.70,154.13 18.55,143.28 21.05,143.28 24.90,154.13 22.40,154.13 19.80,145.88 17.20,154.13"/><rect x="16.70" y="150.53" width="6.20" height="1.75"/></g>
<rect x="25.35" y="144.56" width="4.1" height="1.25" fill="#fff"/><rect x="26.77" y="143.13" width="1.25" height="4.1" fill="#fff"/>
<polygon points="11.2,159.36 43.34,159.36 51.14,167.16 43.34,174.96 11.2,174.96" fill="#c3d600"/>
<g fill="#fff"><polygon points="14.70,172.81 18.55,161.96 21.05,161.96 24.90,172.81 22.40,172.81 19.80,164.56 17.20,172.81"/><rect x="16.70" y="169.21" width="6.20" height="1.75"/></g>
<polygon points="11.2,178.04 48.21,178.04 56.01,185.84 48.21,193.64 11.2,193.64" fill="#ffec00"/>
<g fill="#fff"><rect x="16.00" y="180.64" width="2.10" height="10.85"/><path d="M17.05,181.59 H19.65 C21.55,181.59 21.55,185.87 19.65,185.87 H17.05 M19.65,185.87 C22.25,185.87 22.25,190.54 19.65,190.54 H17.05" fill="none" stroke="#fff" stroke-width="2.0"/></g>
<polygon points="11.2,196.72 53.08,196.72 60.88,204.52 53.08,212.32 11.2,212.32" fill="#f8b900"/>
<g fill="#fff"><path d="M22.25,200.87 C21.25,200.37 20.25,200.27 19.85,200.27 C17.05,200.27 16.25,202.87 16.25,204.75 C16.25,206.62 17.05,209.22 19.85,209.22 C20.25,209.22 21.25,209.12 22.25,208.62" fill="none" stroke="#fff" stroke-width="2.1"/></g>
<polygon points="11.2,215.40 57.95,215.40 65.75,223.20 57.95,231.00 11.2,231.00" fill="#ec6d0d"/>
<g fill="#fff"><rect x="15.90" y="218.00" width="2.10" height="10.85"/><path d="M16.95,218.95 H19.35 C22.85,218.95 23.35,221.45 23.35,223.43 C23.35,225.40 22.85,227.90 19.35,227.90 H16.95" fill="none" stroke="#fff" stroke-width="2.0"/></g>
<polygon points="11.2,234.08 62.82,234.08 70.62,241.88 62.82,249.68 11.2,249.68" fill="#e3061b"/>
<g fill="#fff"><rect x="15.70" y="236.68" width="2.10" height="10.85"/><rect x="15.70" y="236.68" width="6.30" height="1.90"/><rect x="15.70" y="241.15" width="5.80" height="1.85"/><rect x="15.70" y="245.63" width="6.50" height="1.90"/></g>
<path d="M85.8,120.3 L90,120.3 C99,120.3 103.6,124.5 103.6,131.5 L103.6,174.5 C103.6,180 107,183.6 110.9,184.8 C107,186 103.6,189.5 103.6,194.5 L103.6,239.5 C103.6,246.5 99,251.6 90,251.6 L85.8,251.6 L85.8,248.4 L90,248.4 C95.5,248.4 98.1,245 98.1,239 L98.1,194.5 C98.1,189.5 99.5,186.2 101.6,184.8 C99.5,183.4 98.1,180 98.1,175 L98.1,131.5 C98.1,126 95.5,123.6 90,123.6 L85.8,123.6 Z" fill="#139be0"/>
<g transform="translate(121.0,180.8) rotate(41.7)"><path d="M11.4,-3.2 C8,-3.5 5.5,-4.1 4.0,-5.1 A6.48,6.48 0 1 0 4.0,5.1 C5.5,4.1 8,3.5 11.4,3.2" fill="none" stroke="#3f8ec0" stroke-width="0.95"/><path d="M11.0,-3.6 L19.8,-1.7 Q20.5,0 19.8,1.7 L11.0,3.6 Z" fill="#1b9be0"/></g>
<text x="11.0" y="326.8" class="reg" textLength="38.8" lengthAdjust="spacingAndGlyphs">874/2012</text>
<rect x="133.7" y="313" width="25.9" height="17" fill="#1e3f93"/><circle cx="152.15" cy="321.50" r="0.6" fill="#f5d000"/><circle cx="151.41" cy="324.25" r="0.6" fill="#f5d000"/><circle cx="149.40" cy="326.26" r="0.6" fill="#f5d000"/><circle cx="146.65" cy="327.00" r="0.6" fill="#f5d000"/><circle cx="143.90" cy="326.26" r="0.6" fill="#f5d000"/><circle cx="141.89" cy="324.25" r="0.6" fill="#f5d000"/><circle cx="141.15" cy="321.50" r="0.6" fill="#f5d000"/><circle cx="141.89" cy="318.75" r="0.6" fill="#f5d000"/><circle cx="143.90" cy="316.74" r="0.6" fill="#f5d000"/><circle cx="146.65" cy="316.00" r="0.6" fill="#f5d000"/><circle cx="149.40" cy="316.74" r="0.6" fill="#f5d000"/><circle cx="151.41" cy="318.75" r="0.6" fill="#f5d000"/>
<g fill="#646464" stroke="#646464" stroke-width="0"><path d="M193.80,284.90 H199.80 C213.00,284.90 214.50,291.40 214.50,299.25 C214.50,307.10 212.50,313.60 199.80,313.60 H193.80 Z" fill="none" stroke-width="3.8" stroke-linejoin="miter"/><rect x="191.90" y="283.00" width="3.80" height="32.50"/><polygon points="218.20,315.5 229.10,283.0 233.70,283.0 244.60,315.5 240.00,315.5 231.40,288.50 222.80,315.5"/><rect x="224.00" y="303.40" width="14.80" height="3.80"/></g>
</svg>
<svg class="cell" style="left:768px;top:682.800px" width="256" height="342" viewBox="0 0 256 342">
<rect x="6.0" y="4.1" width="159.4" height="331.0" rx="4" ry="4" fill="none" stroke="#c4f3fb" stroke-width="4.2"/>
<rect x="6.0" y="4.1" width="159.4" height="331.0" rx="4" ry="4" fill="none" stroke="#238bc4" stroke-width="2.0"/>
<text x="10.0" y="30.7" class="logo" textLength="25.6" lengthAdjust="spacingAndGlyphs">vida</text><circle cx="46.5" cy="29.05" r="10.6" fill="#1a1a1a"/><path d="M38.6,24.3 L46.2,35.2" stroke="#fff" stroke-width="2.6" fill="none"/><path d="M48.3,24.6 L40.4,35.2" stroke="#fff" stroke-width="2.6" fill="none"/><path d="M51.1,18.4 L50.8,31.6 C50.8,33.8 52,34.8 54.2,34.3" stroke="#fff" stroke-width="2.5" fill="none"/><text x="56.0" y="36.6" class="logo2" textLength="27.6" lengthAdjust="spacingAndGlyphs">.com</text>
<text transform="scale(0.8,1)" x="123.95 135.47 147.79 159.91 171.7 183.79" y="38.4" class="num">241121</text>
<line x1="10.8" y1="47.05" x2="160.8" y2="47.05" stroke="#2b90d0" stroke-width="1.4"/>
<rect x="11.5" y="56.6" width="43" height="42.6" rx="2.5" ry="2.5" fill="#fff" stroke="#3f90c6" stroke-width="1"/>
<path d="M27.4,59.5 L35.9,59.5 C35.9,69 40.5,75 46,82.5 C46.3,89 40,93.6 32,93.8 C24,93.6 17.6,89 18,82.5 C23.4,75 27.4,69 27.4,59.5 Z" fill="url(#chv)"/><path d="M27.4,59.5 L35.9,59.5 C35.9,69 40.5,75 46,82.5 C46.3,89 40,93.6 32,93.8 C24,93.6 17.6,89 18,82.5 C23.4,75 27.4,69 27.4,59.5 Z" fill="url(#chh)"/><path d="M28.2,61 C27.5,70 23,77 19.5,83 M29.6,61 C29.4,70 26.5,77 24.5,83 M31.1,61 L30.6,83 M32.6,61 L33.1,83 M34.1,61 C34.3,70 37.5,77 39.5,83 M35.4,61 C36,70 40.5,77 44.5,83 M20,84 C22,88 25,91.5 28,92.8 M25,84 L27.5,92.5 M30.5,84 L30.8,93.2 M34,84 L34.5,93 M39,84 L37,92.5 M44,84 C42,88 39,91.5 36,92.8" stroke="#d8eaf9" stroke-width="0.55" fill="none" opacity="0.85"/><path d="M27.5,66 L37.5,80 M36,66 L26,80 M24,74 L31,83 M40,74 L33,83" stroke="#e6f1fb" stroke-width="0.5" fill="none" opacity="0.7"/><path d="M27.4,59.5 L35.9,59.5 C35.9,69 40.5,75 46,82.5 C46.3,89 40,93.6 32,93.8 C24,93.6 17.6,89 18,82.5 C23.4,75 27.4,69 27.4,59.5 Z" fill="none" stroke="#5b94c9" stroke-width="0.6" opacity="0.8"/><rect x="27.4" y="59.4" width="8.5" height="1.8" fill="#4a88c2"/><line x1="18.6" y1="83.1" x2="45.6" y2="83.1" stroke="#4a78a8" stroke-width="0.9" stroke-dasharray="1.1,0.9"/><line x1="32" y1="93.5" x2="32" y2="96.5" stroke="#7fa9d4" stroke-width="0.7"/>
<text x="59.0" y="70.32" class="t" textLength="87.5" lengthAdjust="spacingAndGlyphs">Осветителното тяло е</text><text x="59.0" y="82.70" class="t" textLength="87.5" lengthAdjust="spacingAndGlyphs">съвместимо с крушки</text><text x="59.0" y="95.08" class="t" textLength="90.8" lengthAdjust="spacingAndGlyphs">от енергийни класове:</text>
<polygon points="11.2,122.00 33.60,122.00 41.40,129.80 33.60,137.60 11.2,137.60" fill="#16984a"/>
<g fill="#fff"><polygon points="14.70,135.45 18.55,124.60 21.05,124.60 24.90,135.45 22.40,135.45 19.80,127.20 17.20,135.45"/><rect x="16.70" y="131.85" width="6.20" height="1.75"/></g>
<rect x="25.35" y="125.88" width="4.1" height="1.25" fill="#fff"/><rect x="26.77" y="124.45" width="1.25" height="4.1" fill="#fff"/>
<rect x="30.35" y="125.88" width="4.1" height="1.25" fill="#fff"/><rect x="31.77" y="124.45" width="1.25" height="4.1" fill="#fff"/>
<polygon points="11.2,140.68 38.47,140.68 46.27,148.48 38.47,156.28 11.2,156.28" fill="#4cae3e"/>
<g fill="#fff"><polygon points="14.70,154.13 18.55,143.28 21.05,143.28 24.90,154.13 22.40,154.13 19.80,145.88 17.20,154.13"/><rect x="16.70" y="150.53" width="6.20" height="1.75"/></g>
<rect x="25.35" y="144.56" width="4.1" height="1.25" fill="#fff"/><rect x="26.77" y="143.13" width="1.25" height="4.1" fill="#fff"/>
<polygon points="11.2,159.36 43.34,159.36 51.14,167.16 43.34,174.96 11.2,174.96" fill="#c3d600"/>
<g fill="#fff"><polygon points="14.70,172.81 18.55,161.96 21.05,161.96 24.90,172.81 22.40,172.81 19.80,164.56 17.20,172.81"/><rect x="16.70" y="169.21" width="6.20" height="1.75"/></g>
<polygon points="11.2,178.04 48.21,178.04 56.01,185.84 48.21,193.64 11.2,193.64" fill="#ffec00"/>
<g fill="#fff"><rect x="16.00" y="180.64" width="2.10" height="10.85"/><path d="M17.05,181.59 H19.65 C21.55,181.59 21.55,185.87 19.65,185.87 H17.05 M19.65,185.87 C22.25,185.87 22.25,190.54 19.65,190.54 H17.05" fill="none" stroke="#fff" stroke-width="2.0"/></g>
<polygon points="11.2,196.72 53.08,196.72 60.88,204.52 53.08,212.32 11.2,212.32" fill="#f8b900"/>
<g fill="#fff"><path d="M22.25,200.87 C21.25,200.37 20.25,200.27 19.85,200.27 C17.05,200.27 16.25,202.87 16.25,204.75 C16.25,206.62 17.05,209.22 19.85,209.22 C20.25,209.22 21.25,209.12 22.25,208.62" fill="none" stroke="#fff" stroke-width="2.1"/></g>
<polygon points="11.2,215.40 57.95,215.40 65.75,223.20 57.95,231.00 11.2,231.00" fill="#ec6d0d"/>
<g fill="#fff"><rect x="15.90" y="218.00" width="2.10" height="10.85"/><path d="M16.95,218.95 H19.35 C22.85,218.95 23.35,221.45 23.35,223.43 C23.35,225.40 22.85,227.90 19.35,227.90 H16.95" fill="none" stroke="#fff" stroke-width="2.0"/></g>
<polygon points="11.2,234.08 62.82,234.08 70.62,241.88 62.82,249.68 11.2,249.68" fill="#e3061b"/>
<g fill="#fff"><rect x="15.70" y="236.68" width="2.10" height="10.85"/><rect x="15.70" y="236.68" width="6.30" height="1.90"/><rect x="15.70" y="241.15" width="5.80" height="1.85"/><rect x="15.70" y="245.63" width="6.50" height="1.90"/></g>
<path d="M85.8,120.3 L90,120.3 C99,120.3 103.6,124.5 103.6,131.5 L103.6,174.5 C103.6,180 107,183.6 110.9,184.8 C107,186 103.6,189.5 103.6,194.5 L103.6,239.5 C103.6,246.5 99,251.6 90,251.6 L85.8,251.6 L85.8,248.4 L90,248.4 C95.5,248.4 98.1,245 98.1,239 L98.1,194.5 C98.1,189.5 99.5,186.2 101.6,184.8 C99.5,183.4 98.1,180 98.1,175 L98.1,131.5 C98.1,126 95.5,123.6 90,123.6 L85.8,123.6 Z" fill="#139be0"/>
<g transform="translate(121.0,180.8) rotate(41.7)"><path d="M11.4,-3.2 C8,-3.5 5.5,-4.1 4.0,-5.1 A6.48,6.48 0 1 0 4.0,5.1 C5.5,4.1 8,3.5 11.4,3.2" fill="none" stroke="#3f8ec0" stroke-width="0.95"/><path d="M11.0,-3.6 L19.8,-1.7 Q20.5,0 19.8,1.7 L11.0,3.6 Z" fill="#1b9be0"/></g>
<text x="11.0" y="326.8" class="reg" textLength="38.8" lengthAdjust="spacingAndGlyphs">874/2012</text>
<rect x="133.7" y="313" width="25.9" height="17" fill="#1e3f93"/><circle cx="152.15" cy="321.50" r="0.6" fill="#f5d000"/><circle cx="151.41" cy="324.25" r="0.6" fill="#f5d000"/><circle cx="149.40" cy="326.26" r="0.6" fill="#f5d000"/><circle cx="146.65" cy="327.00" r="0.6" fill="#f5d000"/><circle cx="143.90" cy="326.26" r="0.6" fill="#f5d000"/><circle cx="141.89" cy="324.25" r="0.6" fill="#f5d000"/><circle cx="141.15" cy="321.50" r="0.6" fill="#f5d000"/><circle cx="141.89" cy="318.75" r="0.6" fill="#f5d000"/><circle cx="143.90" cy="316.74" r="0.6" fill="#f5d000"/><circle cx="146.65" cy="316.00" r="0.6" fill="#f5d000"/><circle cx="149.40" cy="316.74" r="0.6" fill="#f5d000"/><circle cx="151.41" cy="318.75" r="0.6" fill="#f5d000"/>
<g fill="#646464" stroke="#646464" stroke-width="0"><path d="M193.80,284.90 H199.80 C204.60,284.90 205.60,287.90 205.60,291.75 C205.60,295.60 204.10,298.60 199.30,298.60 H193.80 M199.30,298.60 C207.90,298.60 208.90,302.10 208.90,306.10 C208.90,310.10 207.40,313.60 199.80,313.60 H193.80" fill="none" stroke-width="3.8"/><rect x="191.90" y="283.00" width="3.80" height="32.50"/><path d="M236.80,286.40 C234.10,284.70 231.10,284.30 228.10,284.30 C220.40,284.30 216.40,290.90 216.40,299.25 C216.40,308.10 220.40,314.00 227.10,314.00 C232.10,314.00 235.10,313.20 237.10,312.10 V299.10 H226.60" fill="none" stroke-width="3.8"/></g>
</svg>
<svg id="grid" width="1024" height="1024" viewBox="0 0 1024 1024"><g fill="#727476"><rect x="0" y="0" width="1024" height="1"/><rect x="0" y="1023" width="1024" height="1"/><rect x="0" y="0" width="1" height="1024"/><rect x="1023" y="0" width="1" height="1024"/><rect x="255" y="0" width="2" height="1024"/><rect x="511" y="0" width="2" height="1024"/><rect x="767" y="0" width="2" height="1024"/><rect x="0" y="340.75" width="1024" height="1.4"/><rect x="0" y="681.95" width="1024" height="1.4"/></g></svg>
</body></html>
